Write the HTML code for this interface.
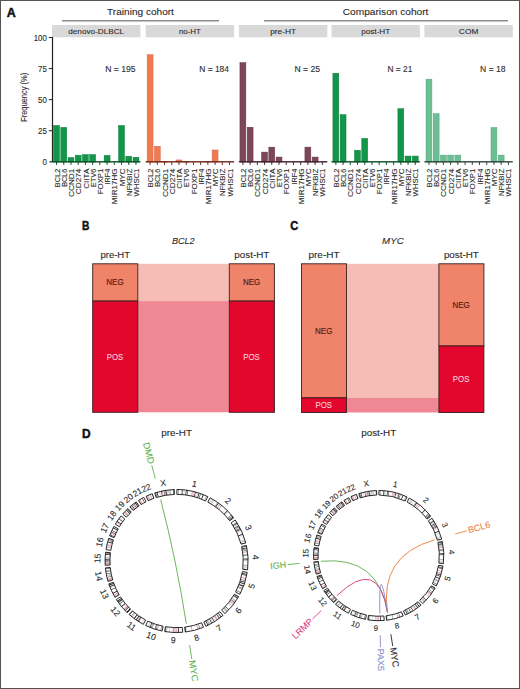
<!DOCTYPE html>
<html><head><meta charset="utf-8"><style>
html,body{margin:0;padding:0;background:#fff;}
svg{display:block;font-family:"Liberation Sans", sans-serif;}
</style></head><body>
<svg width="520" height="689" viewBox="0 0 520 689">
<rect x="0" y="0" width="520" height="689" fill="#fff"/>
<text x="6.80" y="16.80" font-size="12" text-anchor="start" fill="#111" stroke="#111" stroke-width="0.45" textLength="9.00" lengthAdjust="spacingAndGlyphs" font-weight="bold">A</text>
<text x="140.50" y="15.10" font-size="9.5" text-anchor="middle" fill="#2a2a2a" stroke="#2a2a2a" stroke-width="0.1" textLength="66.80" lengthAdjust="spacingAndGlyphs">Training cohort</text>
<rect x="62" y="20.2" width="157" height="1.2" fill="#707070"/>
<text x="385.60" y="15.10" font-size="9.5" text-anchor="middle" fill="#2a2a2a" stroke="#2a2a2a" stroke-width="0.1" textLength="85.60" lengthAdjust="spacingAndGlyphs">Comparison cohort</text>
<rect x="264" y="20.2" width="244" height="1.2" fill="#707070"/>
<rect x="52.00" y="25" width="88.4" height="12.3" fill="#d9d9d9"/>
<text x="96.20" y="34.00" font-size="8" text-anchor="middle" fill="#2a2a2a" stroke="#2a2a2a" stroke-width="0.1" textLength="55.80" lengthAdjust="spacingAndGlyphs">denovo-DLBCL</text>
<text x="120.40" y="71.50" font-size="8.5" text-anchor="middle" fill="#2a2a2a" stroke="#2a2a2a" stroke-width="0.1" textLength="30.40" lengthAdjust="spacingAndGlyphs">N = 195</text>
<rect x="53.60" y="125.51" width="5.9" height="36.54" fill="#12974a" stroke="#0c7d3b" stroke-width="0.5"/>
<rect x="56.05" y="161.8" width="1" height="3.1" fill="#0e4f29"/>
<text transform="translate(59.65,168.60) rotate(-90.00)" font-size="8.1" text-anchor="end" fill="#2a2a2a" stroke="#2a2a2a" stroke-width="0.1" textLength="18.60" lengthAdjust="spacingAndGlyphs">BCL2</text>
<rect x="60.82" y="127.37" width="5.9" height="34.68" fill="#12974a" stroke="#0c7d3b" stroke-width="0.5"/>
<rect x="63.27" y="161.8" width="1" height="3.1" fill="#0e4f29"/>
<text transform="translate(66.87,168.60) rotate(-90.00)" font-size="8.1" text-anchor="end" fill="#2a2a2a" stroke="#2a2a2a" stroke-width="0.1" textLength="18.20" lengthAdjust="spacingAndGlyphs">BCL6</text>
<rect x="68.04" y="157.58" width="5.9" height="4.47" fill="#12974a" stroke="#0c7d3b" stroke-width="0.5"/>
<rect x="70.49" y="161.8" width="1" height="3.1" fill="#0e4f29"/>
<text transform="translate(74.09,168.60) rotate(-90.00)" font-size="8.1" text-anchor="end" fill="#2a2a2a" stroke="#2a2a2a" stroke-width="0.1" textLength="28.40" lengthAdjust="spacingAndGlyphs">CCND1</text>
<rect x="75.26" y="155.21" width="5.9" height="6.84" fill="#12974a" stroke="#0c7d3b" stroke-width="0.5"/>
<rect x="77.71" y="161.8" width="1" height="3.1" fill="#0e4f29"/>
<text transform="translate(81.31,168.60) rotate(-90.00)" font-size="8.1" text-anchor="end" fill="#2a2a2a" stroke="#2a2a2a" stroke-width="0.1" textLength="25.60" lengthAdjust="spacingAndGlyphs">CD274</text>
<rect x="82.48" y="154.59" width="5.9" height="7.46" fill="#12974a" stroke="#0c7d3b" stroke-width="0.5"/>
<rect x="84.93" y="161.8" width="1" height="3.1" fill="#0e4f29"/>
<text transform="translate(88.53,168.60) rotate(-90.00)" font-size="8.1" text-anchor="end" fill="#2a2a2a" stroke="#2a2a2a" stroke-width="0.1" textLength="20.20" lengthAdjust="spacingAndGlyphs">CIITA</text>
<rect x="89.70" y="154.59" width="5.9" height="7.46" fill="#12974a" stroke="#0c7d3b" stroke-width="0.5"/>
<rect x="92.15" y="161.8" width="1" height="3.1" fill="#0e4f29"/>
<text transform="translate(95.75,168.60) rotate(-90.00)" font-size="8.1" text-anchor="end" fill="#2a2a2a" stroke="#2a2a2a" stroke-width="0.1" textLength="18.30" lengthAdjust="spacingAndGlyphs">ETV6</text>
<rect x="99.37" y="161.8" width="1" height="3.1" fill="#0e4f29"/>
<text transform="translate(102.97,168.60) rotate(-90.00)" font-size="8.1" text-anchor="end" fill="#2a2a2a" stroke="#2a2a2a" stroke-width="0.1" textLength="25.60" lengthAdjust="spacingAndGlyphs">FOXP1</text>
<rect x="104.14" y="155.46" width="5.9" height="6.59" fill="#12974a" stroke="#0c7d3b" stroke-width="0.5"/>
<rect x="106.59" y="161.8" width="1" height="3.1" fill="#0e4f29"/>
<text transform="translate(110.19,168.60) rotate(-90.00)" font-size="8.1" text-anchor="end" fill="#2a2a2a" stroke="#2a2a2a" stroke-width="0.1" textLength="15.90" lengthAdjust="spacingAndGlyphs">IRF4</text>
<rect x="113.81" y="161.8" width="1" height="3.1" fill="#0e4f29"/>
<text transform="translate(117.41,168.60) rotate(-90.00)" font-size="8.1" text-anchor="end" fill="#2a2a2a" stroke="#2a2a2a" stroke-width="0.1" textLength="35.60" lengthAdjust="spacingAndGlyphs">MIR17HG</text>
<rect x="118.58" y="125.51" width="5.9" height="36.54" fill="#12974a" stroke="#0c7d3b" stroke-width="0.5"/>
<rect x="121.03" y="161.8" width="1" height="3.1" fill="#0e4f29"/>
<text transform="translate(124.63,168.60) rotate(-90.00)" font-size="8.1" text-anchor="end" fill="#2a2a2a" stroke="#2a2a2a" stroke-width="0.1" textLength="17.70" lengthAdjust="spacingAndGlyphs">MYC</text>
<rect x="125.80" y="156.21" width="5.9" height="5.84" fill="#12974a" stroke="#0c7d3b" stroke-width="0.5"/>
<rect x="128.25" y="161.8" width="1" height="3.1" fill="#0e4f29"/>
<text transform="translate(131.85,168.60) rotate(-90.00)" font-size="8.1" text-anchor="end" fill="#2a2a2a" stroke="#2a2a2a" stroke-width="0.1" textLength="27.50" lengthAdjust="spacingAndGlyphs">NFKBIZ</text>
<rect x="133.02" y="157.33" width="5.9" height="4.72" fill="#12974a" stroke="#0c7d3b" stroke-width="0.5"/>
<rect x="135.47" y="161.8" width="1" height="3.1" fill="#0e4f29"/>
<text transform="translate(139.07,168.60) rotate(-90.00)" font-size="8.1" text-anchor="end" fill="#2a2a2a" stroke="#2a2a2a" stroke-width="0.1" textLength="27.90" lengthAdjust="spacingAndGlyphs">WHSC1</text>
<rect x="49.60" y="161.10" width="90.80" height="1.4" fill="#0e4f29"/>
<rect x="145.70" y="25" width="88.4" height="12.3" fill="#d9d9d9"/>
<text x="189.90" y="34.00" font-size="8" text-anchor="middle" fill="#2a2a2a" stroke="#2a2a2a" stroke-width="0.1" textLength="22.00" lengthAdjust="spacingAndGlyphs">no-HT</text>
<text x="214.10" y="71.50" font-size="8.5" text-anchor="middle" fill="#2a2a2a" stroke="#2a2a2a" stroke-width="0.1" textLength="29.70" lengthAdjust="spacingAndGlyphs">N = 184</text>
<rect x="147.15" y="54.65" width="5.9" height="107.40" fill="#f27a50" stroke="#d06a52" stroke-width="0.5"/>
<rect x="149.60" y="161.8" width="1" height="3.1" fill="#6e2a1a"/>
<text transform="translate(153.20,168.60) rotate(-90.00)" font-size="8.1" text-anchor="end" fill="#2a2a2a" stroke="#2a2a2a" stroke-width="0.1" textLength="18.60" lengthAdjust="spacingAndGlyphs">BCL2</text>
<rect x="154.37" y="146.26" width="5.9" height="15.79" fill="#f27a50" stroke="#d06a52" stroke-width="0.5"/>
<rect x="156.82" y="161.8" width="1" height="3.1" fill="#6e2a1a"/>
<text transform="translate(160.42,168.60) rotate(-90.00)" font-size="8.1" text-anchor="end" fill="#2a2a2a" stroke="#2a2a2a" stroke-width="0.1" textLength="18.20" lengthAdjust="spacingAndGlyphs">BCL6</text>
<rect x="161.59" y="161.30" width="5.9" height="0.75" fill="#f27a50" stroke="#d06a52" stroke-width="0.5"/>
<rect x="164.04" y="161.8" width="1" height="3.1" fill="#6e2a1a"/>
<text transform="translate(167.64,168.60) rotate(-90.00)" font-size="8.1" text-anchor="end" fill="#2a2a2a" stroke="#2a2a2a" stroke-width="0.1" textLength="28.40" lengthAdjust="spacingAndGlyphs">CCND1</text>
<rect x="171.26" y="161.8" width="1" height="3.1" fill="#6e2a1a"/>
<text transform="translate(174.86,168.60) rotate(-90.00)" font-size="8.1" text-anchor="end" fill="#2a2a2a" stroke="#2a2a2a" stroke-width="0.1" textLength="25.60" lengthAdjust="spacingAndGlyphs">CD274</text>
<rect x="176.03" y="159.94" width="5.9" height="2.11" fill="#f27a50" stroke="#d06a52" stroke-width="0.5"/>
<rect x="178.48" y="161.8" width="1" height="3.1" fill="#6e2a1a"/>
<text transform="translate(182.08,168.60) rotate(-90.00)" font-size="8.1" text-anchor="end" fill="#2a2a2a" stroke="#2a2a2a" stroke-width="0.1" textLength="20.20" lengthAdjust="spacingAndGlyphs">CIITA</text>
<rect x="183.25" y="161.30" width="5.9" height="0.75" fill="#f27a50" stroke="#d06a52" stroke-width="0.5"/>
<rect x="185.70" y="161.8" width="1" height="3.1" fill="#6e2a1a"/>
<text transform="translate(189.30,168.60) rotate(-90.00)" font-size="8.1" text-anchor="end" fill="#2a2a2a" stroke="#2a2a2a" stroke-width="0.1" textLength="18.30" lengthAdjust="spacingAndGlyphs">ETV6</text>
<rect x="192.92" y="161.8" width="1" height="3.1" fill="#6e2a1a"/>
<text transform="translate(196.52,168.60) rotate(-90.00)" font-size="8.1" text-anchor="end" fill="#2a2a2a" stroke="#2a2a2a" stroke-width="0.1" textLength="25.60" lengthAdjust="spacingAndGlyphs">FOXP1</text>
<rect x="200.14" y="161.8" width="1" height="3.1" fill="#6e2a1a"/>
<text transform="translate(203.74,168.60) rotate(-90.00)" font-size="8.1" text-anchor="end" fill="#2a2a2a" stroke="#2a2a2a" stroke-width="0.1" textLength="15.90" lengthAdjust="spacingAndGlyphs">IRF4</text>
<rect x="204.91" y="161.30" width="5.9" height="0.75" fill="#f27a50" stroke="#d06a52" stroke-width="0.5"/>
<rect x="207.36" y="161.8" width="1" height="3.1" fill="#6e2a1a"/>
<text transform="translate(210.96,168.60) rotate(-90.00)" font-size="8.1" text-anchor="end" fill="#2a2a2a" stroke="#2a2a2a" stroke-width="0.1" textLength="35.60" lengthAdjust="spacingAndGlyphs">MIR17HG</text>
<rect x="212.13" y="149.99" width="5.9" height="12.06" fill="#f27a50" stroke="#d06a52" stroke-width="0.5"/>
<rect x="214.58" y="161.8" width="1" height="3.1" fill="#6e2a1a"/>
<text transform="translate(218.18,168.60) rotate(-90.00)" font-size="8.1" text-anchor="end" fill="#2a2a2a" stroke="#2a2a2a" stroke-width="0.1" textLength="17.70" lengthAdjust="spacingAndGlyphs">MYC</text>
<rect x="221.80" y="161.8" width="1" height="3.1" fill="#6e2a1a"/>
<text transform="translate(225.40,168.60) rotate(-90.00)" font-size="8.1" text-anchor="end" fill="#2a2a2a" stroke="#2a2a2a" stroke-width="0.1" textLength="27.50" lengthAdjust="spacingAndGlyphs">NFKBIZ</text>
<rect x="229.02" y="161.8" width="1" height="3.1" fill="#6e2a1a"/>
<text transform="translate(232.62,168.60) rotate(-90.00)" font-size="8.1" text-anchor="end" fill="#2a2a2a" stroke="#2a2a2a" stroke-width="0.1" textLength="27.90" lengthAdjust="spacingAndGlyphs">WHSC1</text>
<rect x="145.70" y="161.10" width="88.40" height="1.4" fill="#6e2a1a"/>
<rect x="238.90" y="25" width="88.4" height="12.3" fill="#d9d9d9"/>
<text x="283.10" y="34.00" font-size="8" text-anchor="middle" fill="#2a2a2a" stroke="#2a2a2a" stroke-width="0.1" textLength="25.80" lengthAdjust="spacingAndGlyphs">pre-HT</text>
<text x="307.30" y="71.50" font-size="8.5" text-anchor="middle" fill="#2a2a2a" stroke="#2a2a2a" stroke-width="0.1" textLength="25.60" lengthAdjust="spacingAndGlyphs">N = 25</text>
<rect x="239.95" y="62.61" width="5.9" height="99.44" fill="#7d4759" stroke="#5f3444" stroke-width="0.5"/>
<rect x="242.40" y="161.8" width="1" height="3.1" fill="#42202e"/>
<text transform="translate(246.00,168.60) rotate(-90.00)" font-size="8.1" text-anchor="end" fill="#2a2a2a" stroke="#2a2a2a" stroke-width="0.1" textLength="18.60" lengthAdjust="spacingAndGlyphs">BCL2</text>
<rect x="247.17" y="127.25" width="5.9" height="34.80" fill="#7d4759" stroke="#5f3444" stroke-width="0.5"/>
<rect x="249.62" y="161.8" width="1" height="3.1" fill="#42202e"/>
<text transform="translate(253.22,168.60) rotate(-90.00)" font-size="8.1" text-anchor="end" fill="#2a2a2a" stroke="#2a2a2a" stroke-width="0.1" textLength="18.20" lengthAdjust="spacingAndGlyphs">BCL6</text>
<rect x="256.84" y="161.8" width="1" height="3.1" fill="#42202e"/>
<text transform="translate(260.44,168.60) rotate(-90.00)" font-size="8.1" text-anchor="end" fill="#2a2a2a" stroke="#2a2a2a" stroke-width="0.1" textLength="28.40" lengthAdjust="spacingAndGlyphs">CCND1</text>
<rect x="261.61" y="152.11" width="5.9" height="9.94" fill="#7d4759" stroke="#5f3444" stroke-width="0.5"/>
<rect x="264.06" y="161.8" width="1" height="3.1" fill="#42202e"/>
<text transform="translate(267.66,168.60) rotate(-90.00)" font-size="8.1" text-anchor="end" fill="#2a2a2a" stroke="#2a2a2a" stroke-width="0.1" textLength="25.60" lengthAdjust="spacingAndGlyphs">CD274</text>
<rect x="268.83" y="147.13" width="5.9" height="14.92" fill="#7d4759" stroke="#5f3444" stroke-width="0.5"/>
<rect x="271.28" y="161.8" width="1" height="3.1" fill="#42202e"/>
<text transform="translate(274.88,168.60) rotate(-90.00)" font-size="8.1" text-anchor="end" fill="#2a2a2a" stroke="#2a2a2a" stroke-width="0.1" textLength="20.20" lengthAdjust="spacingAndGlyphs">CIITA</text>
<rect x="276.05" y="157.08" width="5.9" height="4.97" fill="#7d4759" stroke="#5f3444" stroke-width="0.5"/>
<rect x="278.50" y="161.8" width="1" height="3.1" fill="#42202e"/>
<text transform="translate(282.10,168.60) rotate(-90.00)" font-size="8.1" text-anchor="end" fill="#2a2a2a" stroke="#2a2a2a" stroke-width="0.1" textLength="18.30" lengthAdjust="spacingAndGlyphs">ETV6</text>
<rect x="285.72" y="161.8" width="1" height="3.1" fill="#42202e"/>
<text transform="translate(289.32,168.60) rotate(-90.00)" font-size="8.1" text-anchor="end" fill="#2a2a2a" stroke="#2a2a2a" stroke-width="0.1" textLength="25.60" lengthAdjust="spacingAndGlyphs">FOXP1</text>
<rect x="292.94" y="161.8" width="1" height="3.1" fill="#42202e"/>
<text transform="translate(296.54,168.60) rotate(-90.00)" font-size="8.1" text-anchor="end" fill="#2a2a2a" stroke="#2a2a2a" stroke-width="0.1" textLength="15.90" lengthAdjust="spacingAndGlyphs">IRF4</text>
<rect x="300.16" y="161.8" width="1" height="3.1" fill="#42202e"/>
<text transform="translate(303.76,168.60) rotate(-90.00)" font-size="8.1" text-anchor="end" fill="#2a2a2a" stroke="#2a2a2a" stroke-width="0.1" textLength="35.60" lengthAdjust="spacingAndGlyphs">MIR17HG</text>
<rect x="304.93" y="147.13" width="5.9" height="14.92" fill="#7d4759" stroke="#5f3444" stroke-width="0.5"/>
<rect x="307.38" y="161.8" width="1" height="3.1" fill="#42202e"/>
<text transform="translate(310.98,168.60) rotate(-90.00)" font-size="8.1" text-anchor="end" fill="#2a2a2a" stroke="#2a2a2a" stroke-width="0.1" textLength="17.70" lengthAdjust="spacingAndGlyphs">MYC</text>
<rect x="312.15" y="157.08" width="5.9" height="4.97" fill="#7d4759" stroke="#5f3444" stroke-width="0.5"/>
<rect x="314.60" y="161.8" width="1" height="3.1" fill="#42202e"/>
<text transform="translate(318.20,168.60) rotate(-90.00)" font-size="8.1" text-anchor="end" fill="#2a2a2a" stroke="#2a2a2a" stroke-width="0.1" textLength="27.50" lengthAdjust="spacingAndGlyphs">NFKBIZ</text>
<rect x="321.82" y="161.8" width="1" height="3.1" fill="#42202e"/>
<text transform="translate(325.42,168.60) rotate(-90.00)" font-size="8.1" text-anchor="end" fill="#2a2a2a" stroke="#2a2a2a" stroke-width="0.1" textLength="27.90" lengthAdjust="spacingAndGlyphs">WHSC1</text>
<rect x="238.90" y="161.10" width="88.40" height="1.4" fill="#42202e"/>
<rect x="331.50" y="25" width="88.4" height="12.3" fill="#d9d9d9"/>
<text x="375.70" y="34.00" font-size="8" text-anchor="middle" fill="#2a2a2a" stroke="#2a2a2a" stroke-width="0.1" textLength="29.00" lengthAdjust="spacingAndGlyphs">post-HT</text>
<text x="399.90" y="71.50" font-size="8.5" text-anchor="middle" fill="#2a2a2a" stroke="#2a2a2a" stroke-width="0.1" textLength="24.80" lengthAdjust="spacingAndGlyphs">N = 21</text>
<rect x="332.90" y="73.30" width="5.9" height="88.75" fill="#12974a" stroke="#0c7d3b" stroke-width="0.5"/>
<rect x="335.35" y="161.8" width="1" height="3.1" fill="#0e4f29"/>
<text transform="translate(338.95,168.60) rotate(-90.00)" font-size="8.1" text-anchor="end" fill="#2a2a2a" stroke="#2a2a2a" stroke-width="0.1" textLength="18.60" lengthAdjust="spacingAndGlyphs">BCL2</text>
<rect x="340.12" y="114.69" width="5.9" height="47.36" fill="#12974a" stroke="#0c7d3b" stroke-width="0.5"/>
<rect x="342.57" y="161.8" width="1" height="3.1" fill="#0e4f29"/>
<text transform="translate(346.17,168.60) rotate(-90.00)" font-size="8.1" text-anchor="end" fill="#2a2a2a" stroke="#2a2a2a" stroke-width="0.1" textLength="18.20" lengthAdjust="spacingAndGlyphs">BCL6</text>
<rect x="349.79" y="161.8" width="1" height="3.1" fill="#0e4f29"/>
<text transform="translate(353.39,168.60) rotate(-90.00)" font-size="8.1" text-anchor="end" fill="#2a2a2a" stroke="#2a2a2a" stroke-width="0.1" textLength="28.40" lengthAdjust="spacingAndGlyphs">CCND1</text>
<rect x="354.56" y="150.24" width="5.9" height="11.81" fill="#12974a" stroke="#0c7d3b" stroke-width="0.5"/>
<rect x="357.01" y="161.8" width="1" height="3.1" fill="#0e4f29"/>
<text transform="translate(360.61,168.60) rotate(-90.00)" font-size="8.1" text-anchor="end" fill="#2a2a2a" stroke="#2a2a2a" stroke-width="0.1" textLength="25.60" lengthAdjust="spacingAndGlyphs">CD274</text>
<rect x="361.78" y="138.43" width="5.9" height="23.62" fill="#12974a" stroke="#0c7d3b" stroke-width="0.5"/>
<rect x="364.23" y="161.8" width="1" height="3.1" fill="#0e4f29"/>
<text transform="translate(367.83,168.60) rotate(-90.00)" font-size="8.1" text-anchor="end" fill="#2a2a2a" stroke="#2a2a2a" stroke-width="0.1" textLength="20.20" lengthAdjust="spacingAndGlyphs">CIITA</text>
<rect x="371.45" y="161.8" width="1" height="3.1" fill="#0e4f29"/>
<text transform="translate(375.05,168.60) rotate(-90.00)" font-size="8.1" text-anchor="end" fill="#2a2a2a" stroke="#2a2a2a" stroke-width="0.1" textLength="18.30" lengthAdjust="spacingAndGlyphs">ETV6</text>
<rect x="378.67" y="161.8" width="1" height="3.1" fill="#0e4f29"/>
<text transform="translate(382.27,168.60) rotate(-90.00)" font-size="8.1" text-anchor="end" fill="#2a2a2a" stroke="#2a2a2a" stroke-width="0.1" textLength="25.60" lengthAdjust="spacingAndGlyphs">FOXP1</text>
<rect x="385.89" y="161.8" width="1" height="3.1" fill="#0e4f29"/>
<text transform="translate(389.49,168.60) rotate(-90.00)" font-size="8.1" text-anchor="end" fill="#2a2a2a" stroke="#2a2a2a" stroke-width="0.1" textLength="15.90" lengthAdjust="spacingAndGlyphs">IRF4</text>
<rect x="393.11" y="161.8" width="1" height="3.1" fill="#0e4f29"/>
<text transform="translate(396.71,168.60) rotate(-90.00)" font-size="8.1" text-anchor="end" fill="#2a2a2a" stroke="#2a2a2a" stroke-width="0.1" textLength="35.60" lengthAdjust="spacingAndGlyphs">MIR17HG</text>
<rect x="397.88" y="108.73" width="5.9" height="53.32" fill="#12974a" stroke="#0c7d3b" stroke-width="0.5"/>
<rect x="400.33" y="161.8" width="1" height="3.1" fill="#0e4f29"/>
<text transform="translate(403.93,168.60) rotate(-90.00)" font-size="8.1" text-anchor="end" fill="#2a2a2a" stroke="#2a2a2a" stroke-width="0.1" textLength="17.70" lengthAdjust="spacingAndGlyphs">MYC</text>
<rect x="405.10" y="156.08" width="5.9" height="5.97" fill="#12974a" stroke="#0c7d3b" stroke-width="0.5"/>
<rect x="407.55" y="161.8" width="1" height="3.1" fill="#0e4f29"/>
<text transform="translate(411.15,168.60) rotate(-90.00)" font-size="8.1" text-anchor="end" fill="#2a2a2a" stroke="#2a2a2a" stroke-width="0.1" textLength="27.50" lengthAdjust="spacingAndGlyphs">NFKBIZ</text>
<rect x="412.32" y="156.08" width="5.9" height="5.97" fill="#12974a" stroke="#0c7d3b" stroke-width="0.5"/>
<rect x="414.77" y="161.8" width="1" height="3.1" fill="#0e4f29"/>
<text transform="translate(418.37,168.60) rotate(-90.00)" font-size="8.1" text-anchor="end" fill="#2a2a2a" stroke="#2a2a2a" stroke-width="0.1" textLength="27.90" lengthAdjust="spacingAndGlyphs">WHSC1</text>
<rect x="331.50" y="161.10" width="88.40" height="1.4" fill="#0e4f29"/>
<rect x="424.40" y="25" width="88.4" height="12.3" fill="#d9d9d9"/>
<text x="468.60" y="34.00" font-size="8" text-anchor="middle" fill="#2a2a2a" stroke="#2a2a2a" stroke-width="0.1" textLength="19.50" lengthAdjust="spacingAndGlyphs">COM</text>
<text x="492.80" y="71.50" font-size="8.5" text-anchor="middle" fill="#2a2a2a" stroke="#2a2a2a" stroke-width="0.1" textLength="25.40" lengthAdjust="spacingAndGlyphs">N = 18</text>
<rect x="426.00" y="79.14" width="5.9" height="82.91" fill="#6cbf95" stroke="#5aa680" stroke-width="0.5"/>
<rect x="428.45" y="161.8" width="1" height="3.1" fill="#34453d"/>
<text transform="translate(432.05,168.60) rotate(-90.00)" font-size="8.1" text-anchor="end" fill="#2a2a2a" stroke="#2a2a2a" stroke-width="0.1" textLength="18.60" lengthAdjust="spacingAndGlyphs">BCL2</text>
<rect x="433.22" y="113.70" width="5.9" height="48.35" fill="#6cbf95" stroke="#5aa680" stroke-width="0.5"/>
<rect x="435.67" y="161.8" width="1" height="3.1" fill="#34453d"/>
<text transform="translate(439.27,168.60) rotate(-90.00)" font-size="8.1" text-anchor="end" fill="#2a2a2a" stroke="#2a2a2a" stroke-width="0.1" textLength="18.20" lengthAdjust="spacingAndGlyphs">BCL6</text>
<rect x="440.44" y="155.09" width="5.9" height="6.96" fill="#6cbf95" stroke="#5aa680" stroke-width="0.5"/>
<rect x="442.89" y="161.8" width="1" height="3.1" fill="#34453d"/>
<text transform="translate(446.49,168.60) rotate(-90.00)" font-size="8.1" text-anchor="end" fill="#2a2a2a" stroke="#2a2a2a" stroke-width="0.1" textLength="28.40" lengthAdjust="spacingAndGlyphs">CCND1</text>
<rect x="447.66" y="155.09" width="5.9" height="6.96" fill="#6cbf95" stroke="#5aa680" stroke-width="0.5"/>
<rect x="450.11" y="161.8" width="1" height="3.1" fill="#34453d"/>
<text transform="translate(453.71,168.60) rotate(-90.00)" font-size="8.1" text-anchor="end" fill="#2a2a2a" stroke="#2a2a2a" stroke-width="0.1" textLength="25.60" lengthAdjust="spacingAndGlyphs">CD274</text>
<rect x="454.88" y="155.09" width="5.9" height="6.96" fill="#6cbf95" stroke="#5aa680" stroke-width="0.5"/>
<rect x="457.33" y="161.8" width="1" height="3.1" fill="#34453d"/>
<text transform="translate(460.93,168.60) rotate(-90.00)" font-size="8.1" text-anchor="end" fill="#2a2a2a" stroke="#2a2a2a" stroke-width="0.1" textLength="20.20" lengthAdjust="spacingAndGlyphs">CIITA</text>
<rect x="464.55" y="161.8" width="1" height="3.1" fill="#34453d"/>
<text transform="translate(468.15,168.60) rotate(-90.00)" font-size="8.1" text-anchor="end" fill="#2a2a2a" stroke="#2a2a2a" stroke-width="0.1" textLength="18.30" lengthAdjust="spacingAndGlyphs">ETV6</text>
<rect x="471.77" y="161.8" width="1" height="3.1" fill="#34453d"/>
<text transform="translate(475.37,168.60) rotate(-90.00)" font-size="8.1" text-anchor="end" fill="#2a2a2a" stroke="#2a2a2a" stroke-width="0.1" textLength="25.60" lengthAdjust="spacingAndGlyphs">FOXP1</text>
<rect x="478.99" y="161.8" width="1" height="3.1" fill="#34453d"/>
<text transform="translate(482.59,168.60) rotate(-90.00)" font-size="8.1" text-anchor="end" fill="#2a2a2a" stroke="#2a2a2a" stroke-width="0.1" textLength="15.90" lengthAdjust="spacingAndGlyphs">IRF4</text>
<rect x="486.21" y="161.8" width="1" height="3.1" fill="#34453d"/>
<text transform="translate(489.81,168.60) rotate(-90.00)" font-size="8.1" text-anchor="end" fill="#2a2a2a" stroke="#2a2a2a" stroke-width="0.1" textLength="35.60" lengthAdjust="spacingAndGlyphs">MIR17HG</text>
<rect x="490.98" y="127.49" width="5.9" height="34.56" fill="#6cbf95" stroke="#5aa680" stroke-width="0.5"/>
<rect x="493.43" y="161.8" width="1" height="3.1" fill="#34453d"/>
<text transform="translate(497.03,168.60) rotate(-90.00)" font-size="8.1" text-anchor="end" fill="#2a2a2a" stroke="#2a2a2a" stroke-width="0.1" textLength="17.70" lengthAdjust="spacingAndGlyphs">MYC</text>
<rect x="498.20" y="155.09" width="5.9" height="6.96" fill="#6cbf95" stroke="#5aa680" stroke-width="0.5"/>
<rect x="500.65" y="161.8" width="1" height="3.1" fill="#34453d"/>
<text transform="translate(504.25,168.60) rotate(-90.00)" font-size="8.1" text-anchor="end" fill="#2a2a2a" stroke="#2a2a2a" stroke-width="0.1" textLength="27.50" lengthAdjust="spacingAndGlyphs">NFKBIZ</text>
<rect x="507.87" y="161.8" width="1" height="3.1" fill="#34453d"/>
<text transform="translate(511.47,168.60) rotate(-90.00)" font-size="8.1" text-anchor="end" fill="#2a2a2a" stroke="#2a2a2a" stroke-width="0.1" textLength="27.90" lengthAdjust="spacingAndGlyphs">WHSC1</text>
<rect x="424.40" y="161.10" width="88.40" height="1.4" fill="#34453d"/>
<rect x="51.9" y="37.0" width="1.2" height="124.4" fill="#222"/>
<text x="46.90" y="164.85" font-size="8.6" text-anchor="end" fill="#2a2a2a" stroke="#2a2a2a" stroke-width="0.1" textLength="4.40" lengthAdjust="spacingAndGlyphs">0</text>
<rect x="48.8" y="130.23" width="3.2" height="1" fill="#222"/>
<text x="46.90" y="133.78" font-size="8.6" text-anchor="end" fill="#2a2a2a" stroke="#2a2a2a" stroke-width="0.1" textLength="8.80" lengthAdjust="spacingAndGlyphs">25</text>
<rect x="48.8" y="99.15" width="3.2" height="1" fill="#222"/>
<text x="46.90" y="102.70" font-size="8.6" text-anchor="end" fill="#2a2a2a" stroke="#2a2a2a" stroke-width="0.1" textLength="8.80" lengthAdjust="spacingAndGlyphs">50</text>
<rect x="48.8" y="68.08" width="3.2" height="1" fill="#222"/>
<text x="46.90" y="71.62" font-size="8.6" text-anchor="end" fill="#2a2a2a" stroke="#2a2a2a" stroke-width="0.1" textLength="8.80" lengthAdjust="spacingAndGlyphs">75</text>
<rect x="48.8" y="37.00" width="3.2" height="1" fill="#222"/>
<text x="46.90" y="40.55" font-size="8.6" text-anchor="end" fill="#2a2a2a" stroke="#2a2a2a" stroke-width="0.1" textLength="13.20" lengthAdjust="spacingAndGlyphs">100</text>
<text transform="translate(27.00,97.35) rotate(-90.00)" font-size="9.3" text-anchor="middle" fill="#2a2a2a" stroke="#2a2a2a" stroke-width="0.1" textLength="49.00" lengthAdjust="spacingAndGlyphs">Frequency (%)</text>
<text x="81.90" y="229.60" font-size="12" text-anchor="start" fill="#111" stroke="#111" stroke-width="0.45" textLength="7.40" lengthAdjust="spacingAndGlyphs" font-weight="bold">B</text>
<text x="290.20" y="230.00" font-size="12" text-anchor="start" fill="#111" stroke="#111" stroke-width="0.45" textLength="8.00" lengthAdjust="spacingAndGlyphs" font-weight="bold">C</text>
<rect x="137.80" y="263.8" width="91.50" height="37.30" fill="#f6bdb6"/>
<rect x="137.80" y="301.1" width="91.50" height="111.20" fill="#ef8893"/>
<rect x="92.7" y="263.8" width="45.1" height="37.30" fill="#f0846b" stroke="#3a1c1c" stroke-width="0.9"/>
<rect x="92.7" y="301.1" width="45.1" height="111.20" fill="#e3062d" stroke="#3a1c1c" stroke-width="0.9"/>
<text x="114.95" y="285.45" font-size="8.5" text-anchor="middle" fill="#5a1d12" stroke="#5a1d12" stroke-width="0.2" textLength="17.30" lengthAdjust="spacingAndGlyphs">NEG</text>
<text x="114.95" y="359.70" font-size="8.5" text-anchor="middle" fill="#f9d3d6" stroke="#f9d3d6" stroke-width="0.1" textLength="16.60" lengthAdjust="spacingAndGlyphs">POS</text>
<rect x="229.3" y="263.8" width="45.1" height="37.30" fill="#f0846b" stroke="#3a1c1c" stroke-width="0.9"/>
<rect x="229.3" y="301.1" width="45.1" height="111.20" fill="#e3062d" stroke="#3a1c1c" stroke-width="0.9"/>
<text x="251.55" y="285.45" font-size="8.5" text-anchor="middle" fill="#5a1d12" stroke="#5a1d12" stroke-width="0.2" textLength="17.30" lengthAdjust="spacingAndGlyphs">NEG</text>
<text x="251.55" y="359.70" font-size="8.5" text-anchor="middle" fill="#f9d3d6" stroke="#f9d3d6" stroke-width="0.1" textLength="16.60" lengthAdjust="spacingAndGlyphs">POS</text>
<text x="115.25" y="258.00" font-size="9.5" text-anchor="middle" fill="#2a2a2a" stroke="#2a2a2a" stroke-width="0.1" textLength="29.60" lengthAdjust="spacingAndGlyphs">pre-HT</text>
<text x="251.85" y="258.40" font-size="9.5" text-anchor="middle" fill="#2a2a2a" stroke="#2a2a2a" stroke-width="0.1" textLength="35.00" lengthAdjust="spacingAndGlyphs">post-HT</text>
<text x="183.30" y="243.90" font-size="9" text-anchor="middle" fill="#2a2a2a" stroke="#2a2a2a" stroke-width="0.1" textLength="22.80" lengthAdjust="spacingAndGlyphs" font-style="italic">BCL2</text>
<rect x="346.50" y="263.8" width="92.40" height="134.10" fill="#f6bdb6"/>
<rect x="346.50" y="397.9" width="92.40" height="14.60" fill="#ef8893"/>
<rect x="301.5" y="263.8" width="45.0" height="134.10" fill="#f0846b" stroke="#3a1c1c" stroke-width="0.9"/>
<rect x="301.5" y="397.9" width="45.0" height="14.60" fill="#e3062d" stroke="#3a1c1c" stroke-width="0.9"/>
<text x="323.70" y="333.85" font-size="8.5" text-anchor="middle" fill="#5a1d12" stroke="#5a1d12" stroke-width="0.2" textLength="17.30" lengthAdjust="spacingAndGlyphs">NEG</text>
<text x="323.70" y="408.20" font-size="8.5" text-anchor="middle" fill="#f9d3d6" stroke="#f9d3d6" stroke-width="0.1" textLength="16.60" lengthAdjust="spacingAndGlyphs">POS</text>
<rect x="438.9" y="263.8" width="45.0" height="82.20" fill="#f0846b" stroke="#3a1c1c" stroke-width="0.9"/>
<rect x="438.9" y="346.0" width="45.0" height="66.50" fill="#e3062d" stroke="#3a1c1c" stroke-width="0.9"/>
<text x="461.10" y="307.90" font-size="8.5" text-anchor="middle" fill="#5a1d12" stroke="#5a1d12" stroke-width="0.2" textLength="17.30" lengthAdjust="spacingAndGlyphs">NEG</text>
<text x="461.10" y="382.25" font-size="8.5" text-anchor="middle" fill="#f9d3d6" stroke="#f9d3d6" stroke-width="0.1" textLength="16.60" lengthAdjust="spacingAndGlyphs">POS</text>
<text x="324.00" y="258.00" font-size="9.5" text-anchor="middle" fill="#2a2a2a" stroke="#2a2a2a" stroke-width="0.1" textLength="31.00" lengthAdjust="spacingAndGlyphs">pre-HT</text>
<text x="461.40" y="258.40" font-size="9.5" text-anchor="middle" fill="#2a2a2a" stroke="#2a2a2a" stroke-width="0.1" textLength="35.00" lengthAdjust="spacingAndGlyphs">post-HT</text>
<text x="392.90" y="243.90" font-size="9" text-anchor="middle" fill="#2a2a2a" stroke="#2a2a2a" stroke-width="0.1" textLength="21.60" lengthAdjust="spacingAndGlyphs" font-style="italic">MYC</text>
<text x="81.90" y="437.60" font-size="12" text-anchor="start" fill="#111" stroke="#111" stroke-width="0.45" textLength="8.60" lengthAdjust="spacingAndGlyphs" font-weight="bold">D</text>
<text x="176.60" y="436.20" font-size="9.5" text-anchor="middle" fill="#2a2a2a" stroke="#2a2a2a" stroke-width="0.1" textLength="30.60" lengthAdjust="spacingAndGlyphs">pre-HT</text>
<path d="M177.05,489.45 A71.55,71.55 0 0 1 177.51,489.46 L177.45,494.36 A66.65,66.65 0 0 0 177.02,494.35 Z" fill="#d4d4d4"/>
<path d="M178.73,489.48 A71.55,71.55 0 0 1 179.06,489.49 L178.89,494.39 A66.65,66.65 0 0 0 178.58,494.38 Z" fill="#161616"/>
<path d="M181.92,489.65 A71.55,71.55 0 0 1 182.60,489.70 L182.19,494.58 A66.65,66.65 0 0 0 181.55,494.53 Z" fill="#161616"/>
<path d="M182.60,489.70 A71.55,71.55 0 0 1 183.22,489.76 L182.77,494.64 A66.65,66.65 0 0 0 182.19,494.58 Z" fill="#8c8c8c"/>
<path d="M183.93,489.83 A71.55,71.55 0 0 1 184.68,489.91 L184.13,494.78 A66.65,66.65 0 0 0 183.43,494.70 Z" fill="#d4d4d4"/>
<path d="M185.99,490.07 A71.55,71.55 0 0 1 186.72,490.17 L186.03,495.02 A66.65,66.65 0 0 0 185.35,494.93 Z" fill="#161616"/>
<path d="M187.44,490.28 A71.55,71.55 0 0 1 187.99,490.36 L187.21,495.20 A66.65,66.65 0 0 0 186.70,495.12 Z" fill="#161616"/>
<path d="M191.90,491.10 A71.55,71.55 0 0 1 192.41,491.22 L191.33,496.00 A66.65,66.65 0 0 0 190.85,495.89 Z" fill="#d4d4d4"/>
<path d="M193.75,491.53 A71.55,71.55 0 0 1 194.54,491.73 L193.31,496.48 A66.65,66.65 0 0 0 192.57,496.29 Z" fill="#161616"/>
<path d="M195.22,491.92 A71.55,71.55 0 0 1 196.01,492.13 L194.68,496.85 A66.65,66.65 0 0 0 193.95,496.65 Z" fill="#161616"/>
<path d="M196.01,492.13 A71.55,71.55 0 0 1 196.82,492.37 L195.44,497.07 A66.65,66.65 0 0 0 194.68,496.85 Z" fill="#d4d4d4"/>
<path d="M197.52,492.58 A71.55,71.55 0 0 1 198.29,492.82 L196.80,497.49 A66.65,66.65 0 0 0 196.09,497.26 Z" fill="#d4d4d4"/>
<path d="M198.75,492.97 A71.55,71.55 0 0 1 199.52,493.22 L197.95,497.86 A66.65,66.65 0 0 0 197.23,497.62 Z" fill="#161616"/>
<path d="M200.40,493.53 A71.55,71.55 0 0 1 200.87,493.69 L199.20,498.30 A66.65,66.65 0 0 0 198.77,498.15 Z" fill="#161616"/>
<path d="M202.96,494.48 A71.55,71.55 0 0 1 203.73,494.79 L201.87,499.33 A66.65,66.65 0 0 0 201.15,499.04 Z" fill="#161616"/>
<path d="M206.38,495.94 A71.55,71.55 0 0 1 206.69,496.09 L204.63,500.53 A66.65,66.65 0 0 0 204.34,500.40 Z" fill="#161616"/>
<path d="M192.27,491.19 A71.55,71.55 0 0 1 193.27,491.42 L192.13,496.18 A66.65,66.65 0 0 0 191.20,495.97 Z" fill="#f0b8c0"/>
<path d="M192.58,491.26 A71.55,71.55 0 0 1 192.96,491.35 L191.84,496.12 A66.65,66.65 0 0 0 191.49,496.03 Z" fill="#e48a96"/>
<path d="M192.77,491.30 A71.55,71.55 0 0 1 194.89,491.83 L193.64,496.56 A66.65,66.65 0 0 0 191.66,496.07 Z" fill="#f2c4ca"/>
<path d="M176.86,489.45 A71.55,71.55 0 0 1 207.78,496.60 L205.65,501.01 A66.65,66.65 0 0 0 176.84,494.35 Z" fill="none" stroke="#151515" stroke-width="0.9"/>
<text transform="translate(194.45,483.84) rotate(13.02)" font-size="8.6" text-anchor="middle" fill="#2a2a2a" stroke="#2a2a2a" stroke-width="0.1" dominant-baseline="central">1</text>
<path d="M210.27,497.87 A71.55,71.55 0 0 1 210.79,498.14 L208.44,502.45 A66.65,66.65 0 0 0 207.96,502.19 Z" fill="#d4d4d4"/>
<path d="M211.39,498.48 A71.55,71.55 0 0 1 211.95,498.79 L209.53,503.05 A66.65,66.65 0 0 0 209.01,502.76 Z" fill="#d4d4d4"/>
<path d="M212.70,499.23 A71.55,71.55 0 0 1 213.19,499.52 L210.69,503.73 A66.65,66.65 0 0 0 210.23,503.46 Z" fill="#8c8c8c"/>
<path d="M213.59,499.75 A71.55,71.55 0 0 1 214.34,500.21 L211.76,504.38 A66.65,66.65 0 0 0 211.05,503.95 Z" fill="#d4d4d4"/>
<path d="M214.88,500.55 A71.55,71.55 0 0 1 215.36,500.86 L212.70,504.97 A66.65,66.65 0 0 0 212.26,504.69 Z" fill="#d4d4d4"/>
<path d="M217.36,502.20 A71.55,71.55 0 0 1 217.96,502.62 L215.13,506.61 A66.65,66.65 0 0 0 214.57,506.22 Z" fill="#8c8c8c"/>
<path d="M218.23,502.81 A71.55,71.55 0 0 1 218.81,503.23 L215.92,507.18 A66.65,66.65 0 0 0 215.38,506.79 Z" fill="#161616"/>
<path d="M221.55,505.33 A71.55,71.55 0 0 1 222.05,505.74 L218.94,509.53 A66.65,66.65 0 0 0 218.47,509.14 Z" fill="#8c8c8c"/>
<path d="M225.48,508.75 A71.55,71.55 0 0 1 225.86,509.11 L222.49,512.66 A66.65,66.65 0 0 0 222.14,512.33 Z" fill="#d4d4d4"/>
<path d="M227.23,510.44 A71.55,71.55 0 0 1 227.78,511.00 L224.28,514.42 A66.65,66.65 0 0 0 223.76,513.90 Z" fill="#161616"/>
<path d="M228.08,511.31 A71.55,71.55 0 0 1 228.62,511.88 L225.06,515.24 A66.65,66.65 0 0 0 224.55,514.71 Z" fill="#d4d4d4"/>
<path d="M231.22,514.78 A71.55,71.55 0 0 1 231.43,515.03 L227.67,518.18 A66.65,66.65 0 0 0 227.48,517.95 Z" fill="#161616"/>
<path d="M231.96,515.67 A71.55,71.55 0 0 1 232.32,516.11 L228.50,519.19 A66.65,66.65 0 0 0 228.17,518.77 Z" fill="#161616"/>
<path d="M232.85,516.78 A71.55,71.55 0 0 1 233.31,517.38 L229.43,520.36 A66.65,66.65 0 0 0 229.00,519.81 Z" fill="#161616"/>
<path d="M219.76,503.93 A71.55,71.55 0 0 1 220.57,504.56 L217.56,508.42 A66.65,66.65 0 0 0 216.80,507.84 Z" fill="#f0b8c0"/>
<path d="M220.01,504.13 A71.55,71.55 0 0 1 220.32,504.36 L217.32,508.24 A66.65,66.65 0 0 0 217.04,508.02 Z" fill="#e48a96"/>
<path d="M210.10,497.78 A71.55,71.55 0 0 1 233.68,517.86 L229.77,520.82 A66.65,66.65 0 0 0 207.80,502.11 Z" fill="none" stroke="#151515" stroke-width="0.9"/>
<text transform="translate(227.95,500.70) rotate(40.42)" font-size="8.6" text-anchor="middle" fill="#2a2a2a" stroke="#2a2a2a" stroke-width="0.1" dominant-baseline="central">2</text>
<path d="M236.65,522.10 A71.55,71.55 0 0 1 237.11,522.81 L232.96,525.43 A66.65,66.65 0 0 0 232.54,524.77 Z" fill="#8c8c8c"/>
<path d="M237.11,522.81 A71.55,71.55 0 0 1 237.56,523.54 L233.39,526.11 A66.65,66.65 0 0 0 232.96,525.43 Z" fill="#161616"/>
<path d="M237.56,523.54 A71.55,71.55 0 0 1 238.00,524.26 L233.79,526.77 A66.65,66.65 0 0 0 233.39,526.11 Z" fill="#d4d4d4"/>
<path d="M238.00,524.26 A71.55,71.55 0 0 1 238.16,524.54 L233.95,527.04 A66.65,66.65 0 0 0 233.79,526.77 Z" fill="#8c8c8c"/>
<path d="M238.38,524.90 A71.55,71.55 0 0 1 238.73,525.51 L234.47,527.94 A66.65,66.65 0 0 0 234.15,527.38 Z" fill="#d4d4d4"/>
<path d="M238.73,525.51 A71.55,71.55 0 0 1 239.01,526.00 L234.73,528.40 A66.65,66.65 0 0 0 234.47,527.94 Z" fill="#161616"/>
<path d="M239.33,526.59 A71.55,71.55 0 0 1 239.56,527.00 L235.24,529.33 A66.65,66.65 0 0 0 235.04,528.95 Z" fill="#161616"/>
<path d="M240.08,527.99 A71.55,71.55 0 0 1 240.37,528.55 L236.00,530.77 A66.65,66.65 0 0 0 235.73,530.25 Z" fill="#161616"/>
<path d="M240.56,528.93 A71.55,71.55 0 0 1 240.94,529.69 L236.53,531.84 A66.65,66.65 0 0 0 236.18,531.12 Z" fill="#161616"/>
<path d="M241.72,531.35 A71.55,71.55 0 0 1 241.91,531.78 L237.44,533.78 A66.65,66.65 0 0 0 237.26,533.38 Z" fill="#d4d4d4"/>
<path d="M242.73,533.69 A71.55,71.55 0 0 1 243.07,534.51 L238.51,536.33 A66.65,66.65 0 0 0 238.20,535.56 Z" fill="#161616"/>
<path d="M243.39,535.33 A71.55,71.55 0 0 1 243.57,535.82 L238.98,537.54 A66.65,66.65 0 0 0 238.81,537.08 Z" fill="#d4d4d4"/>
<path d="M243.95,536.84 A71.55,71.55 0 0 1 244.08,537.21 L239.46,538.84 A66.65,66.65 0 0 0 239.34,538.49 Z" fill="#d4d4d4"/>
<path d="M244.44,538.25 A71.55,71.55 0 0 1 244.61,538.76 L239.95,540.28 A66.65,66.65 0 0 0 239.79,539.81 Z" fill="#d4d4d4"/>
<path d="M244.84,539.50 A71.55,71.55 0 0 1 245.07,540.25 L240.38,541.67 A66.65,66.65 0 0 0 240.17,540.97 Z" fill="#d4d4d4"/>
<path d="M245.24,540.79 A71.55,71.55 0 0 1 245.41,541.38 L240.69,542.72 A66.65,66.65 0 0 0 240.54,542.18 Z" fill="#8c8c8c"/>
<path d="M245.71,542.49 A71.55,71.55 0 0 1 245.83,542.91 L241.09,544.15 A66.65,66.65 0 0 0 240.98,543.75 Z" fill="#8c8c8c"/>
<path d="M240.88,529.57 A71.55,71.55 0 0 1 241.32,530.50 L236.89,532.59 A66.65,66.65 0 0 0 236.48,531.73 Z" fill="#f0b8c0"/>
<path d="M241.02,529.86 A71.55,71.55 0 0 1 241.19,530.21 L236.76,532.32 A66.65,66.65 0 0 0 236.61,531.99 Z" fill="#e48a96"/>
<path d="M235.21,519.96 A71.55,71.55 0 0 1 245.83,542.91 L241.09,544.15 A66.65,66.65 0 0 0 231.20,522.77 Z" fill="none" stroke="#151515" stroke-width="0.9"/>
<text transform="translate(248.48,527.75) rotate(65.18)" font-size="8.6" text-anchor="middle" fill="#2a2a2a" stroke="#2a2a2a" stroke-width="0.1" dominant-baseline="central">3</text>
<path d="M246.56,545.98 A71.55,71.55 0 0 1 246.67,546.54 L241.87,547.53 A66.65,66.65 0 0 0 241.77,547.01 Z" fill="#161616"/>
<path d="M246.84,547.38 A71.55,71.55 0 0 1 247.00,548.21 L242.18,549.08 A66.65,66.65 0 0 0 242.03,548.31 Z" fill="#161616"/>
<path d="M247.08,548.67 A71.55,71.55 0 0 1 247.15,549.06 L242.32,549.88 A66.65,66.65 0 0 0 242.25,549.52 Z" fill="#161616"/>
<path d="M247.26,549.75 A71.55,71.55 0 0 1 247.38,550.52 L242.53,551.24 A66.65,66.65 0 0 0 242.42,550.52 Z" fill="#8c8c8c"/>
<path d="M247.38,550.52 A71.55,71.55 0 0 1 247.48,551.26 L242.63,551.93 A66.65,66.65 0 0 0 242.53,551.24 Z" fill="#d4d4d4"/>
<path d="M247.80,553.92 A71.55,71.55 0 0 1 247.83,554.25 L242.95,554.71 A66.65,66.65 0 0 0 242.92,554.40 Z" fill="#161616"/>
<path d="M247.87,554.64 A71.55,71.55 0 0 1 247.93,555.35 L243.04,555.73 A66.65,66.65 0 0 0 242.99,555.07 Z" fill="#161616"/>
<path d="M247.93,555.35 A71.55,71.55 0 0 1 247.99,556.22 L243.10,556.54 A66.65,66.65 0 0 0 243.04,555.73 Z" fill="#d4d4d4"/>
<path d="M248.11,558.49 A71.55,71.55 0 0 1 248.13,559.25 L243.23,559.37 A66.65,66.65 0 0 0 243.21,558.67 Z" fill="#161616"/>
<path d="M248.14,559.60 A71.55,71.55 0 0 1 248.15,560.25 L243.25,560.30 A66.65,66.65 0 0 0 243.24,559.70 Z" fill="#161616"/>
<path d="M248.15,560.71 A71.55,71.55 0 0 1 248.15,561.18 L243.25,561.16 A66.65,66.65 0 0 0 243.25,560.73 Z" fill="#d4d4d4"/>
<path d="M248.04,564.99 A71.55,71.55 0 0 1 247.99,565.71 L243.11,565.39 A66.65,66.65 0 0 0 243.15,564.72 Z" fill="#8c8c8c"/>
<path d="M247.94,566.42 A71.55,71.55 0 0 1 247.90,567.02 L243.01,566.61 A66.65,66.65 0 0 0 243.06,566.05 Z" fill="#d4d4d4"/>
<path d="M247.82,567.85 A71.55,71.55 0 0 1 247.78,568.23 L242.91,567.73 A66.65,66.65 0 0 0 242.94,567.38 Z" fill="#8c8c8c"/>
<path d="M247.69,569.07 A71.55,71.55 0 0 1 247.63,569.65 L242.76,569.06 A66.65,66.65 0 0 0 242.82,568.52 Z" fill="#8c8c8c"/>
<path d="M247.49,551.30 A71.55,71.55 0 0 1 247.62,552.32 L242.76,552.91 A66.65,66.65 0 0 0 242.63,551.96 Z" fill="#f0b8c0"/>
<path d="M247.53,551.62 A71.55,71.55 0 0 1 247.58,552.00 L242.72,552.62 A66.65,66.65 0 0 0 242.67,552.26 Z" fill="#e48a96"/>
<path d="M246.44,545.44 A71.55,71.55 0 0 1 247.60,569.83 L242.74,569.23 A66.65,66.65 0 0 0 241.65,546.50 Z" fill="none" stroke="#151515" stroke-width="0.9"/>
<text transform="translate(255.71,557.22) rotate(87.26)" font-size="8.6" text-anchor="middle" fill="#2a2a2a" stroke="#2a2a2a" stroke-width="0.1" dominant-baseline="central">4</text>
<path d="M247.13,573.02 A71.55,71.55 0 0 1 247.06,573.45 L242.23,572.59 A66.65,66.65 0 0 0 242.30,572.19 Z" fill="#d4d4d4"/>
<path d="M246.97,573.94 A71.55,71.55 0 0 1 246.84,574.65 L242.03,573.71 A66.65,66.65 0 0 0 242.15,573.05 Z" fill="#161616"/>
<path d="M246.84,574.65 A71.55,71.55 0 0 1 246.74,575.13 L241.94,574.16 A66.65,66.65 0 0 0 242.03,573.71 Z" fill="#8c8c8c"/>
<path d="M246.74,575.13 A71.55,71.55 0 0 1 246.63,575.68 L241.83,574.67 A66.65,66.65 0 0 0 241.94,574.16 Z" fill="#161616"/>
<path d="M245.64,579.79 A71.55,71.55 0 0 1 245.43,580.55 L240.71,579.21 A66.65,66.65 0 0 0 240.91,578.50 Z" fill="#d4d4d4"/>
<path d="M245.43,580.55 A71.55,71.55 0 0 1 245.26,581.13 L240.56,579.75 A66.65,66.65 0 0 0 240.71,579.21 Z" fill="#8c8c8c"/>
<path d="M245.03,581.91 A71.55,71.55 0 0 1 244.80,582.62 L240.13,581.14 A66.65,66.65 0 0 0 240.34,580.48 Z" fill="#161616"/>
<path d="M244.62,583.18 A71.55,71.55 0 0 1 244.48,583.62 L239.83,582.07 A66.65,66.65 0 0 0 239.97,581.66 Z" fill="#8c8c8c"/>
<path d="M244.48,583.62 A71.55,71.55 0 0 1 244.25,584.29 L239.62,582.70 A66.65,66.65 0 0 0 239.83,582.07 Z" fill="#161616"/>
<path d="M243.84,585.46 A71.55,71.55 0 0 1 243.69,585.87 L239.09,584.16 A66.65,66.65 0 0 0 239.23,583.79 Z" fill="#8c8c8c"/>
<path d="M243.69,585.87 A71.55,71.55 0 0 1 243.40,586.63 L238.83,584.88 A66.65,66.65 0 0 0 239.09,584.16 Z" fill="#161616"/>
<path d="M242.77,588.22 A71.55,71.55 0 0 1 242.63,588.57 L238.10,586.68 A66.65,66.65 0 0 0 238.24,586.36 Z" fill="#161616"/>
<path d="M242.44,589.02 A71.55,71.55 0 0 1 242.18,589.62 L237.68,587.66 A66.65,66.65 0 0 0 237.93,587.10 Z" fill="#8c8c8c"/>
<path d="M241.81,590.44 A71.55,71.55 0 0 1 241.63,590.85 L237.17,588.80 A66.65,66.65 0 0 0 237.34,588.43 Z" fill="#d4d4d4"/>
<path d="M240.98,592.21 A71.55,71.55 0 0 1 240.77,592.64 L236.38,590.47 A66.65,66.65 0 0 0 236.57,590.07 Z" fill="#8c8c8c"/>
<path d="M240.77,592.64 A71.55,71.55 0 0 1 240.60,592.99 L236.22,590.80 A66.65,66.65 0 0 0 236.38,590.47 Z" fill="#161616"/>
<path d="M246.10,577.99 A71.55,71.55 0 0 1 245.85,578.99 L241.11,577.75 A66.65,66.65 0 0 0 241.34,576.83 Z" fill="#f0b8c0"/>
<path d="M246.03,578.30 A71.55,71.55 0 0 1 245.93,578.67 L241.18,577.46 A66.65,66.65 0 0 0 241.27,577.12 Z" fill="#e48a96"/>
<path d="M247.24,572.40 A71.55,71.55 0 0 1 239.91,594.34 L235.57,592.05 A66.65,66.65 0 0 0 242.40,571.62 Z" fill="none" stroke="#151515" stroke-width="0.9"/>
<text transform="translate(251.72,586.09) rotate(-71.53)" font-size="8.6" text-anchor="middle" fill="#2a2a2a" stroke="#2a2a2a" stroke-width="0.1" dominant-baseline="central">5</text>
<path d="M238.56,596.78 A71.55,71.55 0 0 1 238.17,597.44 L233.96,594.95 A66.65,66.65 0 0 0 234.32,594.33 Z" fill="#8c8c8c"/>
<path d="M237.92,597.86 A71.55,71.55 0 0 1 237.56,598.46 L233.38,595.90 A66.65,66.65 0 0 0 233.72,595.34 Z" fill="#161616"/>
<path d="M237.56,598.46 A71.55,71.55 0 0 1 237.31,598.87 L233.15,596.27 A66.65,66.65 0 0 0 233.38,595.90 Z" fill="#8c8c8c"/>
<path d="M236.16,600.64 A71.55,71.55 0 0 1 235.75,601.25 L231.70,598.50 A66.65,66.65 0 0 0 232.09,597.93 Z" fill="#8c8c8c"/>
<path d="M235.39,601.79 A71.55,71.55 0 0 1 234.99,602.35 L230.99,599.52 A66.65,66.65 0 0 0 231.36,598.99 Z" fill="#d4d4d4"/>
<path d="M234.99,602.35 A71.55,71.55 0 0 1 234.74,602.70 L230.76,599.84 A66.65,66.65 0 0 0 230.99,599.52 Z" fill="#161616"/>
<path d="M233.82,603.96 A71.55,71.55 0 0 1 233.51,604.37 L229.61,601.40 A66.65,66.65 0 0 0 229.90,601.02 Z" fill="#8c8c8c"/>
<path d="M233.51,604.37 A71.55,71.55 0 0 1 233.10,604.89 L229.23,601.89 A66.65,66.65 0 0 0 229.61,601.40 Z" fill="#d4d4d4"/>
<path d="M232.36,605.83 A71.55,71.55 0 0 1 232.14,606.11 L228.33,603.02 A66.65,66.65 0 0 0 228.54,602.76 Z" fill="#8c8c8c"/>
<path d="M232.14,606.11 A71.55,71.55 0 0 1 231.66,606.70 L227.88,603.57 A66.65,66.65 0 0 0 228.33,603.02 Z" fill="#d4d4d4"/>
<path d="M229.06,609.66 A71.55,71.55 0 0 1 228.62,610.12 L225.06,606.76 A66.65,66.65 0 0 0 225.46,606.33 Z" fill="#161616"/>
<path d="M227.73,611.05 A71.55,71.55 0 0 1 227.19,611.60 L223.72,608.13 A66.65,66.65 0 0 0 224.23,607.62 Z" fill="#8c8c8c"/>
<path d="M226.88,611.90 A71.55,71.55 0 0 1 226.48,612.29 L223.07,608.78 A66.65,66.65 0 0 0 223.44,608.41 Z" fill="#8c8c8c"/>
<path d="M234.70,602.76 A71.55,71.55 0 0 1 234.09,603.59 L230.15,600.68 A66.65,66.65 0 0 0 230.72,599.90 Z" fill="#f0b8c0"/>
<path d="M234.51,603.02 A71.55,71.55 0 0 1 234.28,603.33 L230.33,600.44 A66.65,66.65 0 0 0 230.54,600.15 Z" fill="#e48a96"/>
<path d="M238.66,596.61 A71.55,71.55 0 0 1 224.99,613.70 L221.68,610.09 A66.65,66.65 0 0 0 234.41,594.17 Z" fill="none" stroke="#151515" stroke-width="0.9"/>
<text transform="translate(238.46,610.46) rotate(-51.35)" font-size="8.6" text-anchor="middle" fill="#2a2a2a" stroke="#2a2a2a" stroke-width="0.1" dominant-baseline="central">6</text>
<path d="M222.90,615.55 A71.55,71.55 0 0 1 222.42,615.95 L219.28,612.19 A66.65,66.65 0 0 0 219.73,611.81 Z" fill="#d4d4d4"/>
<path d="M221.49,616.72 A71.55,71.55 0 0 1 220.87,617.21 L217.84,613.36 A66.65,66.65 0 0 0 218.41,612.90 Z" fill="#161616"/>
<path d="M220.19,617.74 A71.55,71.55 0 0 1 219.68,618.13 L216.73,614.22 A66.65,66.65 0 0 0 217.20,613.86 Z" fill="#d4d4d4"/>
<path d="M219.68,618.13 A71.55,71.55 0 0 1 219.13,618.54 L216.21,614.60 A66.65,66.65 0 0 0 216.73,614.22 Z" fill="#161616"/>
<path d="M217.88,619.44 A71.55,71.55 0 0 1 217.33,619.82 L214.54,615.80 A66.65,66.65 0 0 0 215.05,615.44 Z" fill="#8c8c8c"/>
<path d="M215.97,620.75 A71.55,71.55 0 0 1 215.60,620.98 L212.93,616.88 A66.65,66.65 0 0 0 213.27,616.66 Z" fill="#d4d4d4"/>
<path d="M214.73,621.54 A71.55,71.55 0 0 1 214.18,621.89 L211.61,617.72 A66.65,66.65 0 0 0 212.12,617.40 Z" fill="#161616"/>
<path d="M213.47,622.32 A71.55,71.55 0 0 1 212.80,622.72 L210.32,618.49 A66.65,66.65 0 0 0 210.94,618.12 Z" fill="#d4d4d4"/>
<path d="M212.10,623.12 A71.55,71.55 0 0 1 211.55,623.43 L209.16,619.16 A66.65,66.65 0 0 0 209.67,618.87 Z" fill="#161616"/>
<path d="M210.47,624.03 A71.55,71.55 0 0 1 209.75,624.41 L207.48,620.07 A66.65,66.65 0 0 0 208.15,619.71 Z" fill="#d4d4d4"/>
<path d="M209.75,624.41 A71.55,71.55 0 0 1 208.99,624.80 L206.77,620.43 A66.65,66.65 0 0 0 207.48,620.07 Z" fill="#8c8c8c"/>
<path d="M208.32,625.14 A71.55,71.55 0 0 1 207.61,625.48 L205.49,621.06 A66.65,66.65 0 0 0 206.15,620.74 Z" fill="#161616"/>
<path d="M217.36,619.80 A71.55,71.55 0 0 1 216.52,620.38 L213.78,616.31 A66.65,66.65 0 0 0 214.57,615.78 Z" fill="#f0b8c0"/>
<path d="M217.10,619.98 A71.55,71.55 0 0 1 216.78,620.20 L214.03,616.15 A66.65,66.65 0 0 0 214.33,615.95 Z" fill="#e48a96"/>
<path d="M223.05,615.42 A71.55,71.55 0 0 1 205.84,626.30 L203.84,621.83 A66.65,66.65 0 0 0 219.87,611.70 Z" fill="none" stroke="#151515" stroke-width="0.9"/>
<text transform="translate(218.92,627.95) rotate(-32.30)" font-size="8.6" text-anchor="middle" fill="#2a2a2a" stroke="#2a2a2a" stroke-width="0.1" dominant-baseline="central">7</text>
<path d="M202.55,627.68 A71.55,71.55 0 0 1 201.87,627.94 L200.14,623.36 A66.65,66.65 0 0 0 200.77,623.11 Z" fill="#d4d4d4"/>
<path d="M200.16,628.56 A71.55,71.55 0 0 1 199.76,628.70 L198.17,624.06 A66.65,66.65 0 0 0 198.54,623.93 Z" fill="#161616"/>
<path d="M199.06,628.93 A71.55,71.55 0 0 1 198.55,629.10 L197.05,624.44 A66.65,66.65 0 0 0 197.52,624.28 Z" fill="#d4d4d4"/>
<path d="M192.46,630.77 A71.55,71.55 0 0 1 192.13,630.84 L191.07,626.06 A66.65,66.65 0 0 0 191.37,625.99 Z" fill="#161616"/>
<path d="M187.26,631.75 A71.55,71.55 0 0 1 186.47,631.87 L185.80,627.01 A66.65,66.65 0 0 0 186.53,626.91 Z" fill="#d4d4d4"/>
<path d="M185.96,631.94 A71.55,71.55 0 0 1 185.31,632.02 L184.71,627.15 A66.65,66.65 0 0 0 185.32,627.08 Z" fill="#161616"/>
<path d="M198.43,629.14 A71.55,71.55 0 0 1 197.45,629.45 L196.02,624.76 A66.65,66.65 0 0 0 196.93,624.47 Z" fill="#f0b8c0"/>
<path d="M198.12,629.24 A71.55,71.55 0 0 1 197.76,629.35 L196.31,624.67 A66.65,66.65 0 0 0 196.65,624.56 Z" fill="#e48a96"/>
<path d="M203.45,627.32 A71.55,71.55 0 0 1 185.31,632.02 L184.71,627.15 A66.65,66.65 0 0 0 201.61,622.78 Z" fill="none" stroke="#151515" stroke-width="0.9"/>
<text transform="translate(196.45,637.67) rotate(-14.51)" font-size="8.6" text-anchor="middle" fill="#2a2a2a" stroke="#2a2a2a" stroke-width="0.1" dominant-baseline="central">8</text>
<path d="M181.11,632.41 A71.55,71.55 0 0 1 180.76,632.43 L180.48,627.54 A66.65,66.65 0 0 0 180.80,627.52 Z" fill="#d4d4d4"/>
<path d="M179.04,632.51 A71.55,71.55 0 0 1 178.25,632.53 L178.14,627.63 A66.65,66.65 0 0 0 178.87,627.61 Z" fill="#161616"/>
<path d="M177.39,632.55 A71.55,71.55 0 0 1 176.89,632.55 L176.87,627.65 A66.65,66.65 0 0 0 177.34,627.65 Z" fill="#d4d4d4"/>
<path d="M175.15,632.54 A71.55,71.55 0 0 1 174.63,632.52 L174.77,627.62 A66.65,66.65 0 0 0 175.25,627.64 Z" fill="#8c8c8c"/>
<path d="M173.78,632.49 A71.55,71.55 0 0 1 173.03,632.46 L173.27,627.57 A66.65,66.65 0 0 0 173.97,627.60 Z" fill="#8c8c8c"/>
<path d="M173.03,632.46 A71.55,71.55 0 0 1 172.23,632.42 L172.53,627.53 A66.65,66.65 0 0 0 173.27,627.57 Z" fill="#d4d4d4"/>
<path d="M169.57,632.20 A71.55,71.55 0 0 1 168.84,632.13 L169.37,627.26 A66.65,66.65 0 0 0 170.05,627.33 Z" fill="#d4d4d4"/>
<path d="M166.79,631.87 A71.55,71.55 0 0 1 166.20,631.79 L166.92,626.94 A66.65,66.65 0 0 0 167.46,627.02 Z" fill="#8c8c8c"/>
<path d="M165.50,631.68 A71.55,71.55 0 0 1 165.05,631.61 L165.84,626.78 A66.65,66.65 0 0 0 166.26,626.84 Z" fill="#161616"/>
<path d="M176.95,632.55 A71.55,71.55 0 0 1 175.92,632.55 L175.97,627.65 A66.65,66.65 0 0 0 176.93,627.65 Z" fill="#f0b8c0"/>
<path d="M176.63,632.55 A71.55,71.55 0 0 1 176.25,632.55 L176.27,627.65 A66.65,66.65 0 0 0 176.63,627.65 Z" fill="#e48a96"/>
<path d="M176.44,632.55 A71.55,71.55 0 0 1 174.26,632.51 L174.42,627.61 A66.65,66.65 0 0 0 176.45,627.65 Z" fill="#f2c4ca"/>
<path d="M182.72,632.29 A71.55,71.55 0 0 1 164.66,631.55 L165.47,626.71 A66.65,66.65 0 0 0 182.30,627.41 Z" fill="none" stroke="#151515" stroke-width="0.9"/>
<text transform="translate(173.35,640.13) rotate(2.35)" font-size="8.6" text-anchor="middle" fill="#2a2a2a" stroke="#2a2a2a" stroke-width="0.1" dominant-baseline="central">9</text>
<path d="M161.11,630.85 A71.55,71.55 0 0 1 160.29,630.67 L161.41,625.90 A66.65,66.65 0 0 0 162.17,626.07 Z" fill="#8c8c8c"/>
<path d="M157.96,630.08 A71.55,71.55 0 0 1 157.61,629.98 L158.91,625.26 A66.65,66.65 0 0 0 159.24,625.35 Z" fill="#d4d4d4"/>
<path d="M156.14,629.56 A71.55,71.55 0 0 1 155.71,629.43 L157.14,624.74 A66.65,66.65 0 0 0 157.54,624.87 Z" fill="#161616"/>
<path d="M155.71,629.43 A71.55,71.55 0 0 1 155.28,629.30 L156.74,624.62 A66.65,66.65 0 0 0 157.14,624.74 Z" fill="#d4d4d4"/>
<path d="M155.28,629.30 A71.55,71.55 0 0 1 154.74,629.13 L156.24,624.46 A66.65,66.65 0 0 0 156.74,624.62 Z" fill="#161616"/>
<path d="M152.35,628.32 A71.55,71.55 0 0 1 152.04,628.20 L153.72,623.60 A66.65,66.65 0 0 0 154.01,623.71 Z" fill="#161616"/>
<path d="M151.28,627.92 A71.55,71.55 0 0 1 150.86,627.76 L152.62,623.19 A66.65,66.65 0 0 0 153.02,623.34 Z" fill="#161616"/>
<path d="M150.86,627.76 A71.55,71.55 0 0 1 150.23,627.51 L152.04,622.96 A66.65,66.65 0 0 0 152.62,623.19 Z" fill="#d4d4d4"/>
<path d="M150.23,627.51 A71.55,71.55 0 0 1 149.53,627.23 L151.38,622.69 A66.65,66.65 0 0 0 152.04,622.96 Z" fill="#161616"/>
<path d="M149.53,627.23 A71.55,71.55 0 0 1 149.04,627.03 L150.93,622.51 A66.65,66.65 0 0 0 151.38,622.69 Z" fill="#d4d4d4"/>
<path d="M148.51,626.81 A71.55,71.55 0 0 1 147.77,626.49 L149.75,622.00 A66.65,66.65 0 0 0 150.44,622.30 Z" fill="#d4d4d4"/>
<path d="M157.59,629.98 A71.55,71.55 0 0 1 156.60,629.70 L157.97,624.99 A66.65,66.65 0 0 0 158.89,625.25 Z" fill="#f0b8c0"/>
<path d="M157.28,629.89 A71.55,71.55 0 0 1 156.91,629.79 L158.26,625.08 A66.65,66.65 0 0 0 158.60,625.17 Z" fill="#e48a96"/>
<path d="M162.10,631.07 A71.55,71.55 0 0 1 145.66,625.52 L147.78,621.10 A66.65,66.65 0 0 0 163.10,626.27 Z" fill="none" stroke="#151515" stroke-width="0.9"/>
<text transform="translate(151.27,636.04) rotate(18.65)" font-size="8.6" text-anchor="middle" fill="#2a2a2a" stroke="#2a2a2a" stroke-width="0.1" dominant-baseline="central">10</text>
<path d="M142.71,624.01 A71.55,71.55 0 0 1 142.39,623.84 L144.73,619.54 A66.65,66.65 0 0 0 145.03,619.70 Z" fill="#d4d4d4"/>
<path d="M141.74,623.48 A71.55,71.55 0 0 1 141.13,623.14 L143.56,618.88 A66.65,66.65 0 0 0 144.13,619.20 Z" fill="#d4d4d4"/>
<path d="M139.10,621.94 A71.55,71.55 0 0 1 138.38,621.48 L140.99,617.34 A66.65,66.65 0 0 0 141.67,617.76 Z" fill="#8c8c8c"/>
<path d="M138.38,621.48 A71.55,71.55 0 0 1 137.68,621.04 L140.34,616.93 A66.65,66.65 0 0 0 140.99,617.34 Z" fill="#161616"/>
<path d="M136.59,620.32 A71.55,71.55 0 0 1 135.87,619.83 L138.66,615.80 A66.65,66.65 0 0 0 139.33,616.26 Z" fill="#161616"/>
<path d="M134.54,618.88 A71.55,71.55 0 0 1 133.82,618.35 L136.75,614.42 A66.65,66.65 0 0 0 137.42,614.92 Z" fill="#161616"/>
<path d="M132.50,617.34 A71.55,71.55 0 0 1 132.01,616.96 L135.07,613.13 A66.65,66.65 0 0 0 135.52,613.48 Z" fill="#d4d4d4"/>
<path d="M132.01,616.96 A71.55,71.55 0 0 1 131.74,616.74 L134.82,612.93 A66.65,66.65 0 0 0 135.07,613.13 Z" fill="#8c8c8c"/>
<path d="M131.37,616.44 A71.55,71.55 0 0 1 130.97,616.11 L134.09,612.34 A66.65,66.65 0 0 0 134.47,612.64 Z" fill="#8c8c8c"/>
<path d="M129.68,615.02 A71.55,71.55 0 0 1 129.37,614.75 L132.60,611.07 A66.65,66.65 0 0 0 132.89,611.32 Z" fill="#161616"/>
<path d="M137.83,621.14 A71.55,71.55 0 0 1 136.97,620.57 L139.68,616.49 A66.65,66.65 0 0 0 140.49,617.02 Z" fill="#f0b8c0"/>
<path d="M137.56,620.96 A71.55,71.55 0 0 1 137.24,620.75 L139.93,616.66 A66.65,66.65 0 0 0 140.23,616.85 Z" fill="#e48a96"/>
<path d="M143.34,624.35 A71.55,71.55 0 0 1 129.11,614.52 L132.37,610.86 A66.65,66.65 0 0 0 145.62,620.01 Z" fill="none" stroke="#151515" stroke-width="0.9"/>
<text transform="translate(131.58,626.16) rotate(34.64)" font-size="8.6" text-anchor="middle" fill="#2a2a2a" stroke="#2a2a2a" stroke-width="0.1" dominant-baseline="central">11</text>
<path d="M127.06,612.63 A71.55,71.55 0 0 1 126.43,612.01 L129.86,608.52 A66.65,66.65 0 0 0 130.46,609.09 Z" fill="#161616"/>
<path d="M125.69,611.28 A71.55,71.55 0 0 1 125.26,610.83 L128.77,607.42 A66.65,66.65 0 0 0 129.18,607.84 Z" fill="#d4d4d4"/>
<path d="M125.26,610.83 A71.55,71.55 0 0 1 124.89,610.45 L128.43,607.06 A66.65,66.65 0 0 0 128.77,607.42 Z" fill="#161616"/>
<path d="M124.55,610.10 A71.55,71.55 0 0 1 123.99,609.49 L127.59,606.17 A66.65,66.65 0 0 0 128.12,606.74 Z" fill="#161616"/>
<path d="M123.13,608.54 A71.55,71.55 0 0 1 122.86,608.24 L126.54,605.01 A66.65,66.65 0 0 0 126.79,605.28 Z" fill="#d4d4d4"/>
<path d="M121.73,606.92 A71.55,71.55 0 0 1 121.16,606.23 L124.96,603.14 A66.65,66.65 0 0 0 125.49,603.77 Z" fill="#161616"/>
<path d="M119.99,604.76 A71.55,71.55 0 0 1 119.78,604.48 L123.67,601.50 A66.65,66.65 0 0 0 123.87,601.76 Z" fill="#d4d4d4"/>
<path d="M119.55,604.18 A71.55,71.55 0 0 1 119.27,603.81 L123.20,600.88 A66.65,66.65 0 0 0 123.46,601.22 Z" fill="#161616"/>
<path d="M118.73,603.08 A71.55,71.55 0 0 1 118.33,602.52 L122.32,599.68 A66.65,66.65 0 0 0 122.69,600.20 Z" fill="#8c8c8c"/>
<path d="M118.33,602.52 A71.55,71.55 0 0 1 117.84,601.83 L121.87,599.03 A66.65,66.65 0 0 0 122.32,599.68 Z" fill="#161616"/>
<path d="M117.58,601.45 A71.55,71.55 0 0 1 117.15,600.82 L121.23,598.09 A66.65,66.65 0 0 0 121.62,598.68 Z" fill="#161616"/>
<path d="M124.33,609.86 A71.55,71.55 0 0 1 123.64,609.11 L127.26,605.81 A66.65,66.65 0 0 0 127.91,606.51 Z" fill="#f0b8c0"/>
<path d="M124.11,609.63 A71.55,71.55 0 0 1 123.85,609.34 L127.46,606.03 A66.65,66.65 0 0 0 127.71,606.30 Z" fill="#e48a96"/>
<path d="M127.20,612.76 A71.55,71.55 0 0 1 116.31,599.53 L120.44,596.89 A66.65,66.65 0 0 0 130.59,609.22 Z" fill="none" stroke="#151515" stroke-width="0.9"/>
<text transform="translate(115.45,611.33) rotate(50.54)" font-size="8.6" text-anchor="middle" fill="#2a2a2a" stroke="#2a2a2a" stroke-width="0.1" dominant-baseline="central">12</text>
<path d="M114.85,597.15 A71.55,71.55 0 0 1 114.50,596.55 L118.76,594.11 A66.65,66.65 0 0 0 119.08,594.67 Z" fill="#161616"/>
<path d="M112.92,593.63 A71.55,71.55 0 0 1 112.60,592.99 L116.98,590.80 A66.65,66.65 0 0 0 117.28,591.39 Z" fill="#161616"/>
<path d="M111.39,590.44 A71.55,71.55 0 0 1 111.18,589.98 L115.66,588.00 A66.65,66.65 0 0 0 115.85,588.42 Z" fill="#d4d4d4"/>
<path d="M111.18,589.98 A71.55,71.55 0 0 1 110.96,589.47 L115.45,587.52 A66.65,66.65 0 0 0 115.66,588.00 Z" fill="#161616"/>
<path d="M110.39,588.11 A71.55,71.55 0 0 1 110.14,587.51 L114.69,585.69 A66.65,66.65 0 0 0 114.92,586.25 Z" fill="#d4d4d4"/>
<path d="M109.92,586.94 A71.55,71.55 0 0 1 109.66,586.26 L114.24,584.53 A66.65,66.65 0 0 0 114.49,585.17 Z" fill="#161616"/>
<path d="M109.66,586.26 A71.55,71.55 0 0 1 109.52,585.91 L114.12,584.20 A66.65,66.65 0 0 0 114.24,584.53 Z" fill="#8c8c8c"/>
<path d="M109.34,585.40 A71.55,71.55 0 0 1 109.06,584.61 L113.68,583.00 A66.65,66.65 0 0 0 113.95,583.73 Z" fill="#161616"/>
<path d="M114.06,595.76 A71.55,71.55 0 0 1 113.57,594.86 L117.89,592.54 A66.65,66.65 0 0 0 118.35,593.38 Z" fill="#f0b8c0"/>
<path d="M113.91,595.48 A71.55,71.55 0 0 1 113.72,595.14 L118.03,592.81 A66.65,66.65 0 0 0 118.20,593.12 Z" fill="#e48a96"/>
<path d="M114.92,597.26 A71.55,71.55 0 0 1 114.31,596.20 L118.57,593.79 A66.65,66.65 0 0 0 119.14,594.77 Z" fill="#f2c4ca"/>
<path d="M114.95,597.31 A71.55,71.55 0 0 1 108.81,583.89 L113.45,582.32 A66.65,66.65 0 0 0 119.17,594.83 Z" fill="none" stroke="#151515" stroke-width="0.9"/>
<text transform="translate(104.57,593.94) rotate(65.42)" font-size="8.6" text-anchor="middle" fill="#2a2a2a" stroke="#2a2a2a" stroke-width="0.1" dominant-baseline="central">13</text>
<path d="M107.73,580.41 A71.55,71.55 0 0 1 107.59,579.88 L112.31,578.59 A66.65,66.65 0 0 0 112.45,579.08 Z" fill="#161616"/>
<path d="M107.00,577.59 A71.55,71.55 0 0 1 106.89,577.14 L111.67,576.04 A66.65,66.65 0 0 0 111.77,576.46 Z" fill="#161616"/>
<path d="M106.72,576.36 A71.55,71.55 0 0 1 106.59,575.75 L111.38,574.74 A66.65,66.65 0 0 0 111.50,575.31 Z" fill="#8c8c8c"/>
<path d="M106.59,575.75 A71.55,71.55 0 0 1 106.42,574.96 L111.23,574.00 A66.65,66.65 0 0 0 111.38,574.74 Z" fill="#d4d4d4"/>
<path d="M106.27,574.18 A71.55,71.55 0 0 1 106.19,573.70 L111.01,572.83 A66.65,66.65 0 0 0 111.09,573.28 Z" fill="#161616"/>
<path d="M105.92,572.13 A71.55,71.55 0 0 1 105.85,571.68 L110.70,570.94 A66.65,66.65 0 0 0 110.76,571.37 Z" fill="#161616"/>
<path d="M105.79,571.28 A71.55,71.55 0 0 1 105.73,570.86 L110.59,570.18 A66.65,66.65 0 0 0 110.64,570.57 Z" fill="#161616"/>
<path d="M105.73,570.86 A71.55,71.55 0 0 1 105.64,570.15 L110.50,569.52 A66.65,66.65 0 0 0 110.59,570.18 Z" fill="#d4d4d4"/>
<path d="M105.50,569.00 A71.55,71.55 0 0 1 105.45,568.57 L110.32,568.05 A66.65,66.65 0 0 0 110.37,568.45 Z" fill="#161616"/>
<path d="M107.55,579.73 A71.55,71.55 0 0 1 107.28,578.74 L112.03,577.52 A66.65,66.65 0 0 0 112.27,578.45 Z" fill="#f0b8c0"/>
<path d="M107.46,579.42 A71.55,71.55 0 0 1 107.36,579.05 L112.11,577.81 A66.65,66.65 0 0 0 112.20,578.16 Z" fill="#e48a96"/>
<path d="M108.00,581.35 A71.55,71.55 0 0 1 107.67,580.18 L112.39,578.86 A66.65,66.65 0 0 0 112.70,579.95 Z" fill="#f2c4ca"/>
<path d="M108.02,581.41 A71.55,71.55 0 0 1 105.38,567.90 L110.26,567.43 A66.65,66.65 0 0 0 112.72,580.01 Z" fill="none" stroke="#151515" stroke-width="0.9"/>
<text transform="translate(98.87,576.19) rotate(78.94)" font-size="8.6" text-anchor="middle" fill="#2a2a2a" stroke="#2a2a2a" stroke-width="0.1" dominant-baseline="central">14</text>
<path d="M105.17,565.12 A71.55,71.55 0 0 1 105.12,564.25 L110.02,564.02 A66.65,66.65 0 0 0 110.06,564.84 Z" fill="#d4d4d4"/>
<path d="M105.10,563.71 A71.55,71.55 0 0 1 105.08,563.16 L109.98,563.01 A66.65,66.65 0 0 0 110.00,563.52 Z" fill="#161616"/>
<path d="M105.05,561.38 A71.55,71.55 0 0 1 105.05,560.52 L109.95,560.55 A66.65,66.65 0 0 0 109.95,561.36 Z" fill="#161616"/>
<path d="M105.06,559.63 A71.55,71.55 0 0 1 105.08,559.11 L109.97,559.23 A66.65,66.65 0 0 0 109.96,559.72 Z" fill="#161616"/>
<path d="M105.08,559.11 A71.55,71.55 0 0 1 105.09,558.50 L109.99,558.68 A66.65,66.65 0 0 0 109.97,559.23 Z" fill="#8c8c8c"/>
<path d="M105.11,558.00 A71.55,71.55 0 0 1 105.14,557.48 L110.03,557.72 A66.65,66.65 0 0 0 110.01,558.21 Z" fill="#8c8c8c"/>
<path d="M105.14,557.48 A71.55,71.55 0 0 1 105.18,556.71 L110.07,557.00 A66.65,66.65 0 0 0 110.03,557.72 Z" fill="#d4d4d4"/>
<path d="M105.22,556.12 A71.55,71.55 0 0 1 105.26,555.55 L110.14,555.92 A66.65,66.65 0 0 0 110.11,556.46 Z" fill="#d4d4d4"/>
<path d="M105.32,554.75 A71.55,71.55 0 0 1 105.38,554.09 L110.26,554.56 A66.65,66.65 0 0 0 110.20,555.18 Z" fill="#161616"/>
<path d="M105.47,553.28 A71.55,71.55 0 0 1 105.57,552.41 L110.43,553.00 A66.65,66.65 0 0 0 110.34,553.81 Z" fill="#161616"/>
<path d="M105.09,563.39 A71.55,71.55 0 0 1 105.06,562.36 L109.96,562.27 A66.65,66.65 0 0 0 109.99,563.23 Z" fill="#f0b8c0"/>
<path d="M105.08,563.07 A71.55,71.55 0 0 1 105.07,562.68 L109.97,562.57 A66.65,66.65 0 0 0 109.98,562.93 Z" fill="#e48a96"/>
<path d="M105.18,565.25 A71.55,71.55 0 0 1 105.11,564.03 L110.01,563.82 A66.65,66.65 0 0 0 110.07,564.96 Z" fill="#f2c4ca"/>
<path d="M105.18,565.31 A71.55,71.55 0 0 1 105.60,552.18 L110.46,552.78 A66.65,66.65 0 0 0 110.07,565.02 Z" fill="none" stroke="#151515" stroke-width="0.9"/>
<text transform="translate(97.44,558.49) rotate(271.81)" font-size="8.6" text-anchor="middle" fill="#2a2a2a" stroke="#2a2a2a" stroke-width="0.1" dominant-baseline="central">15</text>
<path d="M106.37,547.30 A71.55,71.55 0 0 1 106.44,546.98 L111.24,547.94 A66.65,66.65 0 0 0 111.18,548.24 Z" fill="#161616"/>
<path d="M106.59,546.22 A71.55,71.55 0 0 1 106.75,545.51 L111.53,546.58 A66.65,66.65 0 0 0 111.39,547.23 Z" fill="#d4d4d4"/>
<path d="M107.06,544.15 A71.55,71.55 0 0 1 107.16,543.76 L111.91,544.94 A66.65,66.65 0 0 0 111.82,545.31 Z" fill="#d4d4d4"/>
<path d="M107.42,542.75 A71.55,71.55 0 0 1 107.55,542.24 L112.28,543.52 A66.65,66.65 0 0 0 112.15,544.00 Z" fill="#d4d4d4"/>
<path d="M107.55,542.24 A71.55,71.55 0 0 1 107.79,541.38 L112.50,542.73 A66.65,66.65 0 0 0 112.28,543.52 Z" fill="#161616"/>
<path d="M108.02,540.60 A71.55,71.55 0 0 1 108.16,540.13 L112.85,541.56 A66.65,66.65 0 0 0 112.72,541.99 Z" fill="#161616"/>
<path d="M108.30,539.68 A71.55,71.55 0 0 1 108.49,539.09 L113.15,540.59 A66.65,66.65 0 0 0 112.98,541.14 Z" fill="#8c8c8c"/>
<path d="M108.49,539.09 A71.55,71.55 0 0 1 108.65,538.60 L113.30,540.13 A66.65,66.65 0 0 0 113.15,540.59 Z" fill="#d4d4d4"/>
<path d="M108.65,538.60 A71.55,71.55 0 0 1 108.73,538.35 L113.38,539.91 A66.65,66.65 0 0 0 113.30,540.13 Z" fill="#161616"/>
<path d="M106.75,545.50 A71.55,71.55 0 0 1 106.98,544.50 L111.75,545.63 A66.65,66.65 0 0 0 111.53,546.56 Z" fill="#f0b8c0"/>
<path d="M106.82,545.18 A71.55,71.55 0 0 1 106.91,544.81 L111.68,545.92 A66.65,66.65 0 0 0 111.60,546.27 Z" fill="#e48a96"/>
<path d="M106.90,544.82 A71.55,71.55 0 0 1 107.14,543.82 L111.90,545.00 A66.65,66.65 0 0 0 111.68,545.93 Z" fill="#f2c4ca"/>
<path d="M105.96,549.61 A71.55,71.55 0 0 1 108.73,538.35 L113.38,539.91 A66.65,66.65 0 0 0 110.80,550.39 Z" fill="none" stroke="#151515" stroke-width="0.9"/>
<text transform="translate(99.69,542.10) rotate(283.81)" font-size="8.6" text-anchor="middle" fill="#2a2a2a" stroke="#2a2a2a" stroke-width="0.1" dominant-baseline="central">16</text>
<path d="M109.87,535.18 A71.55,71.55 0 0 1 110.10,534.60 L114.65,536.41 A66.65,66.65 0 0 0 114.44,536.95 Z" fill="#161616"/>
<path d="M110.10,534.60 A71.55,71.55 0 0 1 110.43,533.77 L114.96,535.64 A66.65,66.65 0 0 0 114.65,536.41 Z" fill="#d4d4d4"/>
<path d="M111.12,532.16 A71.55,71.55 0 0 1 111.26,531.84 L115.74,533.84 A66.65,66.65 0 0 0 115.60,534.14 Z" fill="#161616"/>
<path d="M111.71,530.86 A71.55,71.55 0 0 1 111.98,530.28 L116.41,532.39 A66.65,66.65 0 0 0 116.15,532.92 Z" fill="#161616"/>
<path d="M113.02,528.18 A71.55,71.55 0 0 1 113.35,527.56 L117.68,529.85 A66.65,66.65 0 0 0 117.38,530.43 Z" fill="#161616"/>
<path d="M110.54,533.52 A71.55,71.55 0 0 1 110.94,532.57 L115.44,534.52 A66.65,66.65 0 0 0 115.06,535.40 Z" fill="#f0b8c0"/>
<path d="M110.66,533.22 A71.55,71.55 0 0 1 110.81,532.87 L115.32,534.79 A66.65,66.65 0 0 0 115.18,535.12 Z" fill="#e48a96"/>
<path d="M109.59,535.91 A71.55,71.55 0 0 1 113.95,526.44 L118.24,528.81 A66.65,66.65 0 0 0 114.18,537.62 Z" fill="none" stroke="#151515" stroke-width="0.9"/>
<text transform="translate(104.65,527.90) rotate(294.71)" font-size="8.6" text-anchor="middle" fill="#2a2a2a" stroke="#2a2a2a" stroke-width="0.1" dominant-baseline="central">17</text>
<path d="M116.83,521.67 A71.55,71.55 0 0 1 117.27,521.00 L121.34,523.74 A66.65,66.65 0 0 0 120.92,524.36 Z" fill="#161616"/>
<path d="M118.65,519.04 A71.55,71.55 0 0 1 119.00,518.56 L122.94,521.47 A66.65,66.65 0 0 0 122.61,521.91 Z" fill="#161616"/>
<path d="M119.29,518.17 A71.55,71.55 0 0 1 119.77,517.53 L123.66,520.51 A66.65,66.65 0 0 0 123.21,521.10 Z" fill="#d4d4d4"/>
<path d="M116.13,522.75 A71.55,71.55 0 0 1 116.69,521.89 L120.79,524.56 A66.65,66.65 0 0 0 120.27,525.37 Z" fill="#f0b8c0"/>
<path d="M116.30,522.48 A71.55,71.55 0 0 1 116.51,522.15 L120.63,524.81 A66.65,66.65 0 0 0 120.43,525.12 Z" fill="#e48a96"/>
<path d="M115.24,524.19 A71.55,71.55 0 0 1 120.99,515.98 L124.80,519.07 A66.65,66.65 0 0 0 119.45,526.71 Z" fill="none" stroke="#151515" stroke-width="0.9"/>
<text transform="translate(111.70,515.60) rotate(304.97)" font-size="8.6" text-anchor="middle" fill="#2a2a2a" stroke="#2a2a2a" stroke-width="0.1" dominant-baseline="central">18</text>
<path d="M123.19,513.39 A71.55,71.55 0 0 1 123.65,512.88 L127.28,516.17 A66.65,66.65 0 0 0 126.85,516.65 Z" fill="#d4d4d4"/>
<path d="M124.04,512.46 A71.55,71.55 0 0 1 124.64,511.81 L128.20,515.18 A66.65,66.65 0 0 0 127.64,515.78 Z" fill="#8c8c8c"/>
<path d="M126.10,510.32 A71.55,71.55 0 0 1 126.69,509.73 L130.11,513.24 A66.65,66.65 0 0 0 129.56,513.79 Z" fill="#161616"/>
<path d="M127.06,509.37 A71.55,71.55 0 0 1 127.54,508.92 L130.90,512.49 A66.65,66.65 0 0 0 130.45,512.91 Z" fill="#161616"/>
<path d="M124.60,511.85 A71.55,71.55 0 0 1 125.31,511.11 L128.82,514.53 A66.65,66.65 0 0 0 128.16,515.22 Z" fill="#f0b8c0"/>
<path d="M124.82,511.62 A71.55,71.55 0 0 1 125.09,511.34 L128.61,514.74 A66.65,66.65 0 0 0 128.37,515.00 Z" fill="#e48a96"/>
<path d="M122.66,513.99 A71.55,71.55 0 0 1 127.94,508.55 L131.27,512.14 A66.65,66.65 0 0 0 126.35,517.21 Z" fill="none" stroke="#151515" stroke-width="0.9"/>
<text transform="translate(119.73,505.88) rotate(314.11)" font-size="8.6" text-anchor="middle" fill="#2a2a2a" stroke="#2a2a2a" stroke-width="0.1" dominant-baseline="central">19</text>
<path d="M130.02,506.69 A71.55,71.55 0 0 1 130.30,506.45 L133.47,510.18 A66.65,66.65 0 0 0 133.21,510.41 Z" fill="#d4d4d4"/>
<path d="M130.30,506.45 A71.55,71.55 0 0 1 130.56,506.23 L133.71,509.98 A66.65,66.65 0 0 0 133.47,510.18 Z" fill="#161616"/>
<path d="M130.56,506.23 A71.55,71.55 0 0 1 131.04,505.83 L134.16,509.61 A66.65,66.65 0 0 0 133.71,509.98 Z" fill="#d4d4d4"/>
<path d="M131.32,505.60 A71.55,71.55 0 0 1 131.78,505.22 L134.85,509.04 A66.65,66.65 0 0 0 134.42,509.39 Z" fill="#161616"/>
<path d="M133.48,503.91 A71.55,71.55 0 0 1 133.87,503.61 L136.80,507.54 A66.65,66.65 0 0 0 136.43,507.82 Z" fill="#161616"/>
<path d="M133.87,503.61 A71.55,71.55 0 0 1 134.19,503.37 L137.10,507.32 A66.65,66.65 0 0 0 136.80,507.54 Z" fill="#d4d4d4"/>
<path d="M134.74,502.97 A71.55,71.55 0 0 1 135.36,502.53 L138.19,506.53 A66.65,66.65 0 0 0 137.61,506.95 Z" fill="#161616"/>
<path d="M135.36,502.53 A71.55,71.55 0 0 1 136.03,502.06 L138.81,506.10 A66.65,66.65 0 0 0 138.19,506.53 Z" fill="#8c8c8c"/>
<path d="M132.20,504.89 A71.55,71.55 0 0 1 133.01,504.26 L135.99,508.15 A66.65,66.65 0 0 0 135.24,508.74 Z" fill="#f0b8c0"/>
<path d="M132.45,504.70 A71.55,71.55 0 0 1 132.75,504.46 L135.76,508.33 A66.65,66.65 0 0 0 135.47,508.55 Z" fill="#e48a96"/>
<path d="M129.87,506.82 A71.55,71.55 0 0 1 136.28,501.89 L139.04,505.94 A66.65,66.65 0 0 0 133.07,510.53 Z" fill="none" stroke="#151515" stroke-width="0.9"/>
<text transform="translate(128.35,498.20) rotate(322.46)" font-size="8.6" text-anchor="middle" fill="#2a2a2a" stroke="#2a2a2a" stroke-width="0.1" dominant-baseline="central">20</text>
<path d="M139.10,500.06 A71.55,71.55 0 0 1 139.47,499.84 L142.02,504.03 A66.65,66.65 0 0 0 141.67,504.24 Z" fill="#161616"/>
<path d="M142.02,498.36 A71.55,71.55 0 0 1 142.50,498.10 L144.83,502.41 A66.65,66.65 0 0 0 144.39,502.65 Z" fill="#161616"/>
<path d="M139.46,499.84 A71.55,71.55 0 0 1 140.34,499.32 L142.82,503.54 A66.65,66.65 0 0 0 142.00,504.03 Z" fill="#f0b8c0"/>
<path d="M139.73,499.68 A71.55,71.55 0 0 1 140.06,499.48 L142.57,503.69 A66.65,66.65 0 0 0 142.26,503.88 Z" fill="#e48a96"/>
<path d="M138.51,500.43 A71.55,71.55 0 0 1 139.55,499.79 L142.08,503.98 A66.65,66.65 0 0 0 141.12,504.58 Z" fill="#f2c4ca"/>
<path d="M138.45,500.47 A71.55,71.55 0 0 1 143.82,497.40 L146.06,501.76 A66.65,66.65 0 0 0 141.07,504.61 Z" fill="none" stroke="#151515" stroke-width="0.9"/>
<text transform="translate(137.31,492.23) rotate(330.26)" font-size="8.6" text-anchor="middle" fill="#2a2a2a" stroke="#2a2a2a" stroke-width="0.1" dominant-baseline="central">21</text>
<path d="M146.70,496.00 A71.55,71.55 0 0 1 147.13,495.80 L149.15,500.26 A66.65,66.65 0 0 0 148.75,500.45 Z" fill="#8c8c8c"/>
<path d="M149.28,494.87 A71.55,71.55 0 0 1 149.94,494.60 L151.76,499.15 A66.65,66.65 0 0 0 151.15,499.40 Z" fill="#d4d4d4"/>
<path d="M149.94,494.60 A71.55,71.55 0 0 1 150.33,494.45 L152.13,499.01 A66.65,66.65 0 0 0 151.76,499.15 Z" fill="#8c8c8c"/>
<path d="M150.33,494.45 A71.55,71.55 0 0 1 150.84,494.25 L152.60,498.82 A66.65,66.65 0 0 0 152.13,499.01 Z" fill="#d4d4d4"/>
<path d="M152.00,493.81 A71.55,71.55 0 0 1 152.23,493.73 L153.90,498.34 A66.65,66.65 0 0 0 153.69,498.41 Z" fill="#161616"/>
<path d="M147.39,495.68 A71.55,71.55 0 0 1 148.33,495.27 L150.27,499.77 A66.65,66.65 0 0 0 149.39,500.16 Z" fill="#f0b8c0"/>
<path d="M147.69,495.55 A71.55,71.55 0 0 1 148.04,495.40 L150.00,499.89 A66.65,66.65 0 0 0 149.67,500.03 Z" fill="#e48a96"/>
<path d="M146.20,496.23 A71.55,71.55 0 0 1 147.31,495.72 L149.32,500.19 A66.65,66.65 0 0 0 148.28,500.66 Z" fill="#f2c4ca"/>
<path d="M146.15,496.26 A71.55,71.55 0 0 1 152.23,493.73 L153.90,498.34 A66.65,66.65 0 0 0 148.23,500.69 Z" fill="none" stroke="#151515" stroke-width="0.9"/>
<text transform="translate(146.22,487.86) rotate(337.45)" font-size="8.6" text-anchor="middle" fill="#2a2a2a" stroke="#2a2a2a" stroke-width="0.1" dominant-baseline="central">22</text>
<path d="M154.87,492.83 A71.55,71.55 0 0 1 155.44,492.65 L156.89,497.33 A66.65,66.65 0 0 0 156.36,497.50 Z" fill="#d4d4d4"/>
<path d="M155.44,492.65 A71.55,71.55 0 0 1 155.90,492.51 L157.32,497.20 A66.65,66.65 0 0 0 156.89,497.33 Z" fill="#161616"/>
<path d="M156.59,492.31 A71.55,71.55 0 0 1 157.35,492.09 L158.67,496.81 A66.65,66.65 0 0 0 157.96,497.01 Z" fill="#161616"/>
<path d="M159.14,491.61 A71.55,71.55 0 0 1 159.87,491.43 L161.01,496.20 A66.65,66.65 0 0 0 160.34,496.36 Z" fill="#d4d4d4"/>
<path d="M161.03,491.16 A71.55,71.55 0 0 1 161.65,491.03 L162.67,495.82 A66.65,66.65 0 0 0 162.10,495.95 Z" fill="#161616"/>
<path d="M163.29,490.70 A71.55,71.55 0 0 1 164.04,490.56 L164.90,495.39 A66.65,66.65 0 0 0 164.20,495.51 Z" fill="#d4d4d4"/>
<path d="M164.04,490.56 A71.55,71.55 0 0 1 164.53,490.48 L165.35,495.31 A66.65,66.65 0 0 0 164.90,495.39 Z" fill="#161616"/>
<path d="M164.53,490.48 A71.55,71.55 0 0 1 165.35,490.34 L166.12,495.18 A66.65,66.65 0 0 0 165.35,495.31 Z" fill="#d4d4d4"/>
<path d="M165.35,490.34 A71.55,71.55 0 0 1 166.23,490.21 L166.94,495.05 A66.65,66.65 0 0 0 166.12,495.18 Z" fill="#161616"/>
<path d="M166.98,490.10 A71.55,71.55 0 0 1 167.30,490.06 L167.94,494.92 A66.65,66.65 0 0 0 167.63,494.96 Z" fill="#8c8c8c"/>
<path d="M168.04,489.96 A71.55,71.55 0 0 1 168.63,489.89 L169.18,494.76 A66.65,66.65 0 0 0 168.63,494.83 Z" fill="#d4d4d4"/>
<path d="M168.63,489.89 A71.55,71.55 0 0 1 169.10,489.84 L169.61,494.72 A66.65,66.65 0 0 0 169.18,494.76 Z" fill="#8c8c8c"/>
<path d="M169.74,489.78 A71.55,71.55 0 0 1 170.12,489.74 L170.57,494.62 A66.65,66.65 0 0 0 170.21,494.66 Z" fill="#d4d4d4"/>
<path d="M170.12,489.74 A71.55,71.55 0 0 1 170.63,489.70 L171.03,494.58 A66.65,66.65 0 0 0 170.57,494.62 Z" fill="#8c8c8c"/>
<path d="M173.34,489.52 A71.55,71.55 0 0 1 173.97,489.50 L174.15,494.40 A66.65,66.65 0 0 0 173.56,494.42 Z" fill="#161616"/>
<path d="M161.70,491.02 A71.55,71.55 0 0 1 162.71,490.81 L163.66,495.62 A66.65,66.65 0 0 0 162.72,495.81 Z" fill="#f0b8c0"/>
<path d="M162.02,490.95 A71.55,71.55 0 0 1 162.39,490.87 L163.37,495.68 A66.65,66.65 0 0 0 163.02,495.75 Z" fill="#e48a96"/>
<path d="M154.68,492.89 A71.55,71.55 0 0 1 174.27,489.49 L174.43,494.39 A66.65,66.65 0 0 0 156.18,497.55 Z" fill="none" stroke="#151515" stroke-width="0.9"/>
<text transform="translate(163.05,482.97) rotate(350.15)" font-size="8.6" text-anchor="middle" fill="#2a2a2a" stroke="#2a2a2a" stroke-width="0.1" dominant-baseline="central">X</text>
<path d="M160.67,499.53 Q176.60,561.00 186.32,623.75" fill="none" stroke="#62b350" stroke-width="0.95"/>
<line x1="155.28" y1="478.72" x2="151.77" y2="465.16" stroke="#62b350" stroke-width="0.9"/>
<text transform="translate(151.39,463.71) rotate(75.47)" font-size="9" text-anchor="end" fill="#62b350" stroke="#62b350" stroke-width="0.1" textLength="22.00" lengthAdjust="spacingAndGlyphs" dominant-baseline="central">DMD</text>
<line x1="189.61" y1="645.00" x2="191.75" y2="658.83" stroke="#62b350" stroke-width="0.9"/>
<text transform="translate(191.98,660.32) rotate(81.20)" font-size="9" text-anchor="start" fill="#62b350" stroke="#62b350" stroke-width="0.1" textLength="21.50" lengthAdjust="spacingAndGlyphs" dominant-baseline="central">MYC</text>
<text x="378.70" y="436.20" font-size="9.5" text-anchor="middle" fill="#2a2a2a" stroke="#2a2a2a" stroke-width="0.1" textLength="35.00" lengthAdjust="spacingAndGlyphs">post-HT</text>
<path d="M379.11,490.45 A65.14999999999999,65.14999999999999 0 0 1 379.53,490.46 L379.47,494.95 A60.650000000000006,60.650000000000006 0 0 0 379.09,494.95 Z" fill="#d4d4d4"/>
<path d="M380.64,490.48 A65.14999999999999,65.14999999999999 0 0 1 380.94,490.49 L380.78,494.99 A60.650000000000006,60.650000000000006 0 0 0 380.51,494.98 Z" fill="#161616"/>
<path d="M383.54,490.63 A65.14999999999999,65.14999999999999 0 0 1 384.16,490.68 L383.79,495.16 A60.650000000000006,60.650000000000006 0 0 0 383.21,495.12 Z" fill="#161616"/>
<path d="M384.16,490.68 A65.14999999999999,65.14999999999999 0 0 1 384.73,490.73 L384.31,495.21 A60.650000000000006,60.650000000000006 0 0 0 383.79,495.16 Z" fill="#8c8c8c"/>
<path d="M385.37,490.79 A65.14999999999999,65.14999999999999 0 0 1 386.06,490.87 L385.55,495.34 A60.650000000000006,60.650000000000006 0 0 0 384.91,495.27 Z" fill="#d4d4d4"/>
<path d="M387.25,491.01 A65.14999999999999,65.14999999999999 0 0 1 387.91,491.10 L387.28,495.56 A60.650000000000006,60.650000000000006 0 0 0 386.66,495.47 Z" fill="#161616"/>
<path d="M388.57,491.20 A65.14999999999999,65.14999999999999 0 0 1 389.07,491.28 L388.35,495.72 A60.650000000000006,60.650000000000006 0 0 0 387.89,495.65 Z" fill="#161616"/>
<path d="M392.63,491.96 A65.14999999999999,65.14999999999999 0 0 1 393.10,492.06 L392.10,496.45 A60.650000000000006,60.650000000000006 0 0 0 391.67,496.35 Z" fill="#d4d4d4"/>
<path d="M394.31,492.35 A65.14999999999999,65.14999999999999 0 0 1 395.03,492.53 L393.90,496.89 A60.650000000000006,60.650000000000006 0 0 0 393.23,496.72 Z" fill="#161616"/>
<path d="M395.66,492.70 A65.14999999999999,65.14999999999999 0 0 1 396.37,492.89 L395.15,497.22 A60.650000000000006,60.650000000000006 0 0 0 394.49,497.04 Z" fill="#161616"/>
<path d="M396.37,492.89 A65.14999999999999,65.14999999999999 0 0 1 397.11,493.11 L395.84,497.42 A60.650000000000006,60.650000000000006 0 0 0 395.15,497.22 Z" fill="#d4d4d4"/>
<path d="M397.75,493.30 A65.14999999999999,65.14999999999999 0 0 1 398.45,493.52 L397.08,497.80 A60.650000000000006,60.650000000000006 0 0 0 396.44,497.60 Z" fill="#d4d4d4"/>
<path d="M398.87,493.65 A65.14999999999999,65.14999999999999 0 0 1 399.57,493.88 L398.13,498.15 A60.650000000000006,60.650000000000006 0 0 0 397.48,497.93 Z" fill="#161616"/>
<path d="M400.37,494.16 A65.14999999999999,65.14999999999999 0 0 1 400.80,494.31 L399.27,498.54 A60.650000000000006,60.650000000000006 0 0 0 398.88,498.40 Z" fill="#161616"/>
<path d="M402.70,495.03 A65.14999999999999,65.14999999999999 0 0 1 403.40,495.31 L401.70,499.48 A60.650000000000006,60.650000000000006 0 0 0 401.04,499.22 Z" fill="#161616"/>
<path d="M405.81,496.36 A65.14999999999999,65.14999999999999 0 0 1 406.10,496.49 L404.21,500.57 A60.650000000000006,60.650000000000006 0 0 0 403.94,500.45 Z" fill="#161616"/>
<path d="M392.97,492.03 A65.14999999999999,65.14999999999999 0 0 1 393.88,492.24 L392.83,496.62 A60.650000000000006,60.650000000000006 0 0 0 391.98,496.42 Z" fill="#f0b8c0"/>
<path d="M393.25,492.10 A65.14999999999999,65.14999999999999 0 0 1 393.59,492.18 L392.57,496.56 A60.650000000000006,60.650000000000006 0 0 0 392.25,496.48 Z" fill="#e48a96"/>
<path d="M393.42,492.14 A65.14999999999999,65.14999999999999 0 0 1 395.35,492.61 L394.20,496.96 A60.650000000000006,60.650000000000006 0 0 0 392.41,496.52 Z" fill="#f2c4ca"/>
<path d="M378.94,490.45 A65.14999999999999,65.14999999999999 0 0 1 407.09,496.96 L405.13,501.01 A60.650000000000006,60.650000000000006 0 0 0 378.92,494.95 Z" fill="none" stroke="#151515" stroke-width="0.9"/>
<text transform="translate(395.11,484.67) rotate(13.02)" font-size="8.0" text-anchor="middle" fill="#2a2a2a" stroke="#2a2a2a" stroke-width="0.1" dominant-baseline="central">1</text>
<path d="M409.36,498.11 A65.14999999999999,65.14999999999999 0 0 1 409.83,498.37 L407.68,502.32 A60.650000000000006,60.650000000000006 0 0 0 407.24,502.08 Z" fill="#d4d4d4"/>
<path d="M410.38,498.67 A65.14999999999999,65.14999999999999 0 0 1 410.89,498.96 L408.67,502.87 A60.650000000000006,60.650000000000006 0 0 0 408.19,502.60 Z" fill="#d4d4d4"/>
<path d="M411.57,499.35 A65.14999999999999,65.14999999999999 0 0 1 412.02,499.62 L409.72,503.48 A60.650000000000006,60.650000000000006 0 0 0 409.30,503.24 Z" fill="#8c8c8c"/>
<path d="M412.38,499.83 A65.14999999999999,65.14999999999999 0 0 1 413.07,500.25 L410.69,504.07 A60.650000000000006,60.650000000000006 0 0 0 410.05,503.68 Z" fill="#d4d4d4"/>
<path d="M413.56,500.56 A65.14999999999999,65.14999999999999 0 0 1 413.99,500.83 L411.55,504.62 A60.650000000000006,60.650000000000006 0 0 0 411.15,504.36 Z" fill="#d4d4d4"/>
<path d="M415.82,502.06 A65.14999999999999,65.14999999999999 0 0 1 416.36,502.44 L413.76,506.11 A60.650000000000006,60.650000000000006 0 0 0 413.25,505.76 Z" fill="#8c8c8c"/>
<path d="M416.61,502.61 A65.14999999999999,65.14999999999999 0 0 1 417.13,502.99 L414.48,506.63 A60.650000000000006,60.650000000000006 0 0 0 413.99,506.27 Z" fill="#161616"/>
<path d="M419.63,504.91 A65.14999999999999,65.14999999999999 0 0 1 420.09,505.29 L417.23,508.76 A60.650000000000006,60.650000000000006 0 0 0 416.80,508.41 Z" fill="#8c8c8c"/>
<path d="M423.21,508.03 A65.14999999999999,65.14999999999999 0 0 1 423.55,508.35 L420.46,511.61 A60.650000000000006,60.650000000000006 0 0 0 420.14,511.31 Z" fill="#d4d4d4"/>
<path d="M424.80,509.56 A65.14999999999999,65.14999999999999 0 0 1 425.30,510.07 L422.08,513.22 A60.650000000000006,60.650000000000006 0 0 0 421.61,512.74 Z" fill="#161616"/>
<path d="M425.57,510.35 A65.14999999999999,65.14999999999999 0 0 1 426.07,510.87 L422.80,513.96 A60.650000000000006,60.650000000000006 0 0 0 422.34,513.48 Z" fill="#d4d4d4"/>
<path d="M428.43,513.52 A65.14999999999999,65.14999999999999 0 0 1 428.62,513.74 L425.18,516.63 A60.650000000000006,60.650000000000006 0 0 0 425.00,516.42 Z" fill="#161616"/>
<path d="M429.11,514.32 A65.14999999999999,65.14999999999999 0 0 1 429.43,514.73 L425.93,517.55 A60.650000000000006,60.650000000000006 0 0 0 425.62,517.17 Z" fill="#161616"/>
<path d="M429.92,515.34 A65.14999999999999,65.14999999999999 0 0 1 430.34,515.88 L426.77,518.62 A60.650000000000006,60.650000000000006 0 0 0 426.38,518.12 Z" fill="#161616"/>
<path d="M418.00,503.64 A65.14999999999999,65.14999999999999 0 0 1 418.74,504.21 L415.97,507.76 A60.650000000000006,60.650000000000006 0 0 0 415.28,507.23 Z" fill="#f0b8c0"/>
<path d="M418.23,503.81 A65.14999999999999,65.14999999999999 0 0 1 418.51,504.03 L415.76,507.59 A60.650000000000006,60.650000000000006 0 0 0 415.50,507.39 Z" fill="#e48a96"/>
<path d="M409.20,498.03 A65.14999999999999,65.14999999999999 0 0 1 430.68,516.32 L427.09,519.03 A60.650000000000006,60.650000000000006 0 0 0 407.10,502.01 Z" fill="none" stroke="#151515" stroke-width="0.9"/>
<text transform="translate(425.90,500.18) rotate(40.42)" font-size="8.0" text-anchor="middle" fill="#2a2a2a" stroke="#2a2a2a" stroke-width="0.1" dominant-baseline="central">2</text>
<path d="M433.38,520.18 A65.14999999999999,65.14999999999999 0 0 1 433.80,520.83 L429.99,523.23 A60.650000000000006,60.650000000000006 0 0 0 429.61,522.63 Z" fill="#8c8c8c"/>
<path d="M433.80,520.83 A65.14999999999999,65.14999999999999 0 0 1 434.21,521.49 L430.37,523.85 A60.650000000000006,60.650000000000006 0 0 0 429.99,523.23 Z" fill="#161616"/>
<path d="M434.21,521.49 A65.14999999999999,65.14999999999999 0 0 1 434.60,522.15 L430.74,524.46 A60.650000000000006,60.650000000000006 0 0 0 430.37,523.85 Z" fill="#d4d4d4"/>
<path d="M434.60,522.15 A65.14999999999999,65.14999999999999 0 0 1 434.76,522.40 L430.89,524.70 A60.650000000000006,60.650000000000006 0 0 0 430.74,524.46 Z" fill="#8c8c8c"/>
<path d="M434.95,522.73 A65.14999999999999,65.14999999999999 0 0 1 435.27,523.29 L431.36,525.52 A60.650000000000006,60.650000000000006 0 0 0 431.07,525.00 Z" fill="#d4d4d4"/>
<path d="M435.27,523.29 A65.14999999999999,65.14999999999999 0 0 1 435.52,523.73 L431.60,525.93 A60.650000000000006,60.650000000000006 0 0 0 431.36,525.52 Z" fill="#161616"/>
<path d="M435.82,524.27 A65.14999999999999,65.14999999999999 0 0 1 436.02,524.64 L432.06,526.78 A60.650000000000006,60.650000000000006 0 0 0 431.88,526.43 Z" fill="#161616"/>
<path d="M436.50,525.54 A65.14999999999999,65.14999999999999 0 0 1 436.76,526.05 L432.75,528.09 A60.650000000000006,60.650000000000006 0 0 0 432.51,527.62 Z" fill="#161616"/>
<path d="M436.94,526.39 A65.14999999999999,65.14999999999999 0 0 1 437.28,527.09 L433.24,529.06 A60.650000000000006,60.650000000000006 0 0 0 432.91,528.41 Z" fill="#161616"/>
<path d="M437.99,528.60 A65.14999999999999,65.14999999999999 0 0 1 438.17,528.99 L434.06,530.83 A60.650000000000006,60.650000000000006 0 0 0 433.90,530.46 Z" fill="#d4d4d4"/>
<path d="M438.92,530.74 A65.14999999999999,65.14999999999999 0 0 1 439.22,531.48 L435.04,533.15 A60.650000000000006,60.650000000000006 0 0 0 434.76,532.45 Z" fill="#161616"/>
<path d="M439.51,532.22 A65.14999999999999,65.14999999999999 0 0 1 439.68,532.67 L435.47,534.25 A60.650000000000006,60.650000000000006 0 0 0 435.31,533.84 Z" fill="#d4d4d4"/>
<path d="M440.02,533.60 A65.14999999999999,65.14999999999999 0 0 1 440.14,533.94 L435.90,535.43 A60.650000000000006,60.650000000000006 0 0 0 435.79,535.12 Z" fill="#d4d4d4"/>
<path d="M440.47,534.89 A65.14999999999999,65.14999999999999 0 0 1 440.62,535.35 L436.35,536.75 A60.650000000000006,60.650000000000006 0 0 0 436.20,536.32 Z" fill="#d4d4d4"/>
<path d="M440.84,536.02 A65.14999999999999,65.14999999999999 0 0 1 441.05,536.70 L436.74,538.01 A60.650000000000006,60.650000000000006 0 0 0 436.55,537.37 Z" fill="#d4d4d4"/>
<path d="M441.20,537.20 A65.14999999999999,65.14999999999999 0 0 1 441.35,537.73 L437.02,538.97 A60.650000000000006,60.650000000000006 0 0 0 436.88,538.47 Z" fill="#8c8c8c"/>
<path d="M441.63,538.74 A65.14999999999999,65.14999999999999 0 0 1 441.73,539.13 L437.38,540.27 A60.650000000000006,60.650000000000006 0 0 0 437.28,539.91 Z" fill="#8c8c8c"/>
<path d="M437.23,526.98 A65.14999999999999,65.14999999999999 0 0 1 437.63,527.83 L433.56,529.75 A60.650000000000006,60.650000000000006 0 0 0 433.19,528.96 Z" fill="#f0b8c0"/>
<path d="M437.36,527.25 A65.14999999999999,65.14999999999999 0 0 1 437.51,527.56 L433.45,529.50 A60.650000000000006,60.650000000000006 0 0 0 433.31,529.21 Z" fill="#e48a96"/>
<path d="M432.07,518.23 A65.14999999999999,65.14999999999999 0 0 1 441.73,539.13 L437.38,540.27 A60.650000000000006,60.650000000000006 0 0 0 428.38,520.81 Z" fill="none" stroke="#151515" stroke-width="0.9"/>
<text transform="translate(444.78,525.04) rotate(65.18)" font-size="8.0" text-anchor="middle" fill="#2a2a2a" stroke="#2a2a2a" stroke-width="0.1" dominant-baseline="central">3</text>
<path d="M442.40,541.92 A65.14999999999999,65.14999999999999 0 0 1 442.50,542.43 L438.10,543.34 A60.650000000000006,60.650000000000006 0 0 0 438.00,542.87 Z" fill="#161616"/>
<path d="M442.66,543.20 A65.14999999999999,65.14999999999999 0 0 1 442.80,543.95 L438.37,544.76 A60.650000000000006,60.650000000000006 0 0 0 438.24,544.06 Z" fill="#161616"/>
<path d="M442.88,544.37 A65.14999999999999,65.14999999999999 0 0 1 442.94,544.73 L438.50,545.48 A60.650000000000006,60.650000000000006 0 0 0 438.44,545.15 Z" fill="#161616"/>
<path d="M443.04,545.36 A65.14999999999999,65.14999999999999 0 0 1 443.15,546.06 L438.70,546.72 A60.650000000000006,60.650000000000006 0 0 0 438.60,546.07 Z" fill="#8c8c8c"/>
<path d="M443.15,546.06 A65.14999999999999,65.14999999999999 0 0 1 443.24,546.73 L438.79,547.34 A60.650000000000006,60.650000000000006 0 0 0 438.70,546.72 Z" fill="#d4d4d4"/>
<path d="M443.53,549.15 A65.14999999999999,65.14999999999999 0 0 1 443.56,549.45 L439.08,549.88 A60.650000000000006,60.650000000000006 0 0 0 439.05,549.60 Z" fill="#161616"/>
<path d="M443.59,549.81 A65.14999999999999,65.14999999999999 0 0 1 443.65,550.45 L439.16,550.81 A60.650000000000006,60.650000000000006 0 0 0 439.11,550.21 Z" fill="#161616"/>
<path d="M443.65,550.45 A65.14999999999999,65.14999999999999 0 0 1 443.70,551.24 L439.21,551.54 A60.650000000000006,60.650000000000006 0 0 0 439.16,550.81 Z" fill="#d4d4d4"/>
<path d="M443.81,553.32 A65.14999999999999,65.14999999999999 0 0 1 443.83,554.00 L439.33,554.11 A60.650000000000006,60.650000000000006 0 0 0 439.31,553.48 Z" fill="#161616"/>
<path d="M443.84,554.33 A65.14999999999999,65.14999999999999 0 0 1 443.85,554.92 L439.35,554.96 A60.650000000000006,60.650000000000006 0 0 0 439.34,554.42 Z" fill="#161616"/>
<path d="M443.85,555.34 A65.14999999999999,65.14999999999999 0 0 1 443.85,555.76 L439.35,555.75 A60.650000000000006,60.650000000000006 0 0 0 439.35,555.35 Z" fill="#d4d4d4"/>
<path d="M443.75,559.24 A65.14999999999999,65.14999999999999 0 0 1 443.71,559.89 L439.22,559.59 A60.650000000000006,60.650000000000006 0 0 0 439.26,558.98 Z" fill="#8c8c8c"/>
<path d="M443.66,560.53 A65.14999999999999,65.14999999999999 0 0 1 443.62,561.08 L439.14,560.70 A60.650000000000006,60.650000000000006 0 0 0 439.18,560.19 Z" fill="#d4d4d4"/>
<path d="M443.55,561.84 A65.14999999999999,65.14999999999999 0 0 1 443.52,562.18 L439.04,561.73 A60.650000000000006,60.650000000000006 0 0 0 439.07,561.41 Z" fill="#8c8c8c"/>
<path d="M443.43,562.95 A65.14999999999999,65.14999999999999 0 0 1 443.37,563.47 L438.91,562.93 A60.650000000000006,60.650000000000006 0 0 0 438.96,562.44 Z" fill="#8c8c8c"/>
<path d="M443.25,546.77 A65.14999999999999,65.14999999999999 0 0 1 443.37,547.70 L438.90,548.24 A60.650000000000006,60.650000000000006 0 0 0 438.79,547.38 Z" fill="#f0b8c0"/>
<path d="M443.29,547.06 A65.14999999999999,65.14999999999999 0 0 1 443.33,547.41 L438.87,547.97 A60.650000000000006,60.650000000000006 0 0 0 438.83,547.65 Z" fill="#e48a96"/>
<path d="M442.29,541.43 A65.14999999999999,65.14999999999999 0 0 1 443.35,563.64 L438.89,563.09 A60.650000000000006,60.650000000000006 0 0 0 437.90,542.41 Z" fill="none" stroke="#151515" stroke-width="0.9"/>
<text transform="translate(451.42,552.13) rotate(87.26)" font-size="8.0" text-anchor="middle" fill="#2a2a2a" stroke="#2a2a2a" stroke-width="0.1" dominant-baseline="central">4</text>
<path d="M442.92,566.54 A65.14999999999999,65.14999999999999 0 0 1 442.86,566.93 L438.43,566.15 A60.650000000000006,60.650000000000006 0 0 0 438.49,565.79 Z" fill="#d4d4d4"/>
<path d="M442.78,567.38 A65.14999999999999,65.14999999999999 0 0 1 442.65,568.03 L438.24,567.17 A60.650000000000006,60.650000000000006 0 0 0 438.35,566.57 Z" fill="#161616"/>
<path d="M442.65,568.03 A65.14999999999999,65.14999999999999 0 0 1 442.57,568.47 L438.16,567.58 A60.650000000000006,60.650000000000006 0 0 0 438.24,567.17 Z" fill="#8c8c8c"/>
<path d="M442.57,568.47 A65.14999999999999,65.14999999999999 0 0 1 442.46,568.97 L438.06,568.04 A60.650000000000006,60.650000000000006 0 0 0 438.16,567.58 Z" fill="#161616"/>
<path d="M441.56,572.71 A65.14999999999999,65.14999999999999 0 0 1 441.37,573.40 L437.04,572.17 A60.650000000000006,60.650000000000006 0 0 0 437.22,571.52 Z" fill="#d4d4d4"/>
<path d="M441.37,573.40 A65.14999999999999,65.14999999999999 0 0 1 441.22,573.93 L436.90,572.66 A60.650000000000006,60.650000000000006 0 0 0 437.04,572.17 Z" fill="#8c8c8c"/>
<path d="M441.01,574.64 A65.14999999999999,65.14999999999999 0 0 1 440.80,575.29 L436.51,573.93 A60.650000000000006,60.650000000000006 0 0 0 436.70,573.32 Z" fill="#161616"/>
<path d="M440.64,575.80 A65.14999999999999,65.14999999999999 0 0 1 440.51,576.19 L436.24,574.77 A60.650000000000006,60.650000000000006 0 0 0 436.36,574.40 Z" fill="#8c8c8c"/>
<path d="M440.51,576.19 A65.14999999999999,65.14999999999999 0 0 1 440.30,576.81 L436.05,575.34 A60.650000000000006,60.650000000000006 0 0 0 436.24,574.77 Z" fill="#161616"/>
<path d="M439.92,577.88 A65.14999999999999,65.14999999999999 0 0 1 439.79,578.24 L435.57,576.68 A60.650000000000006,60.650000000000006 0 0 0 435.69,576.34 Z" fill="#8c8c8c"/>
<path d="M439.79,578.24 A65.14999999999999,65.14999999999999 0 0 1 439.53,578.94 L435.32,577.33 A60.650000000000006,60.650000000000006 0 0 0 435.57,576.68 Z" fill="#161616"/>
<path d="M438.95,580.39 A65.14999999999999,65.14999999999999 0 0 1 438.82,580.70 L434.67,578.97 A60.650000000000006,60.650000000000006 0 0 0 434.79,578.68 Z" fill="#161616"/>
<path d="M438.65,581.11 A65.14999999999999,65.14999999999999 0 0 1 438.41,581.66 L434.29,579.86 A60.650000000000006,60.650000000000006 0 0 0 434.51,579.35 Z" fill="#8c8c8c"/>
<path d="M438.08,582.41 A65.14999999999999,65.14999999999999 0 0 1 437.91,582.78 L433.82,580.90 A60.650000000000006,60.650000000000006 0 0 0 433.98,580.56 Z" fill="#d4d4d4"/>
<path d="M437.32,584.02 A65.14999999999999,65.14999999999999 0 0 1 437.13,584.41 L433.10,582.42 A60.650000000000006,60.650000000000006 0 0 0 433.28,582.06 Z" fill="#8c8c8c"/>
<path d="M437.13,584.41 A65.14999999999999,65.14999999999999 0 0 1 436.98,584.73 L432.95,582.71 A60.650000000000006,60.650000000000006 0 0 0 433.10,582.42 Z" fill="#161616"/>
<path d="M441.99,571.07 A65.14999999999999,65.14999999999999 0 0 1 441.76,571.98 L437.40,570.85 A60.650000000000006,60.650000000000006 0 0 0 437.62,570.00 Z" fill="#f0b8c0"/>
<path d="M441.92,571.35 A65.14999999999999,65.14999999999999 0 0 1 441.83,571.69 L437.47,570.58 A60.650000000000006,60.650000000000006 0 0 0 437.55,570.27 Z" fill="#e48a96"/>
<path d="M443.02,565.98 A65.14999999999999,65.14999999999999 0 0 1 436.35,585.96 L432.36,583.86 A60.650000000000006,60.650000000000006 0 0 0 438.57,565.27 Z" fill="none" stroke="#151515" stroke-width="0.9"/>
<text transform="translate(447.75,578.66) rotate(-71.53)" font-size="8.0" text-anchor="middle" fill="#2a2a2a" stroke="#2a2a2a" stroke-width="0.1" dominant-baseline="central">5</text>
<path d="M435.12,588.18 A65.14999999999999,65.14999999999999 0 0 1 434.77,588.78 L430.89,586.49 A60.650000000000006,60.650000000000006 0 0 0 431.22,585.93 Z" fill="#8c8c8c"/>
<path d="M434.54,589.17 A65.14999999999999,65.14999999999999 0 0 1 434.21,589.71 L430.37,587.35 A60.650000000000006,60.650000000000006 0 0 0 430.68,586.85 Z" fill="#161616"/>
<path d="M434.21,589.71 A65.14999999999999,65.14999999999999 0 0 1 433.98,590.08 L430.16,587.70 A60.650000000000006,60.650000000000006 0 0 0 430.37,587.35 Z" fill="#8c8c8c"/>
<path d="M432.94,591.70 A65.14999999999999,65.14999999999999 0 0 1 432.56,592.25 L428.84,589.72 A60.650000000000006,60.650000000000006 0 0 0 429.19,589.20 Z" fill="#8c8c8c"/>
<path d="M432.23,592.74 A65.14999999999999,65.14999999999999 0 0 1 431.87,593.26 L428.19,590.65 A60.650000000000006,60.650000000000006 0 0 0 428.53,590.17 Z" fill="#d4d4d4"/>
<path d="M431.87,593.26 A65.14999999999999,65.14999999999999 0 0 1 431.64,593.57 L427.98,590.95 A60.650000000000006,60.650000000000006 0 0 0 428.19,590.65 Z" fill="#161616"/>
<path d="M430.80,594.71 A65.14999999999999,65.14999999999999 0 0 1 430.52,595.09 L426.94,592.36 A60.650000000000006,60.650000000000006 0 0 0 427.20,592.01 Z" fill="#8c8c8c"/>
<path d="M430.52,595.09 A65.14999999999999,65.14999999999999 0 0 1 430.15,595.57 L426.60,592.81 A60.650000000000006,60.650000000000006 0 0 0 426.94,592.36 Z" fill="#d4d4d4"/>
<path d="M429.47,596.42 A65.14999999999999,65.14999999999999 0 0 1 429.27,596.68 L425.78,593.84 A60.650000000000006,60.650000000000006 0 0 0 425.97,593.60 Z" fill="#8c8c8c"/>
<path d="M429.27,596.68 A65.14999999999999,65.14999999999999 0 0 1 428.83,597.21 L425.37,594.34 A60.650000000000006,60.650000000000006 0 0 0 425.78,593.84 Z" fill="#d4d4d4"/>
<path d="M426.47,599.91 A65.14999999999999,65.14999999999999 0 0 1 426.07,600.33 L422.80,597.24 A60.650000000000006,60.650000000000006 0 0 0 423.17,596.85 Z" fill="#161616"/>
<path d="M425.26,601.17 A65.14999999999999,65.14999999999999 0 0 1 424.76,601.67 L421.58,598.49 A60.650000000000006,60.650000000000006 0 0 0 422.04,598.03 Z" fill="#8c8c8c"/>
<path d="M424.49,601.95 A65.14999999999999,65.14999999999999 0 0 1 424.12,602.31 L420.98,599.08 A60.650000000000006,60.650000000000006 0 0 0 421.32,598.75 Z" fill="#8c8c8c"/>
<path d="M431.60,593.63 A65.14999999999999,65.14999999999999 0 0 1 431.05,594.38 L427.43,591.70 A60.650000000000006,60.650000000000006 0 0 0 427.95,591.00 Z" fill="#f0b8c0"/>
<path d="M431.43,593.86 A65.14999999999999,65.14999999999999 0 0 1 431.22,594.15 L427.59,591.49 A60.650000000000006,60.650000000000006 0 0 0 427.79,591.22 Z" fill="#e48a96"/>
<path d="M435.21,588.03 A65.14999999999999,65.14999999999999 0 0 1 422.76,603.59 L419.72,600.27 A60.650000000000006,60.650000000000006 0 0 0 431.30,585.79 Z" fill="none" stroke="#151515" stroke-width="0.9"/>
<text transform="translate(435.56,601.06) rotate(-51.35)" font-size="8.0" text-anchor="middle" fill="#2a2a2a" stroke="#2a2a2a" stroke-width="0.1" dominant-baseline="central">6</text>
<path d="M420.86,605.27 A65.14999999999999,65.14999999999999 0 0 1 420.42,605.64 L417.54,602.18 A60.650000000000006,60.650000000000006 0 0 0 417.95,601.84 Z" fill="#d4d4d4"/>
<path d="M419.57,606.34 A65.14999999999999,65.14999999999999 0 0 1 419.01,606.78 L416.23,603.25 A60.650000000000006,60.650000000000006 0 0 0 416.75,602.83 Z" fill="#161616"/>
<path d="M418.39,607.27 A65.14999999999999,65.14999999999999 0 0 1 417.92,607.62 L415.21,604.03 A60.650000000000006,60.650000000000006 0 0 0 415.65,603.70 Z" fill="#d4d4d4"/>
<path d="M417.92,607.62 A65.14999999999999,65.14999999999999 0 0 1 417.42,607.99 L414.75,604.38 A60.650000000000006,60.650000000000006 0 0 0 415.21,604.03 Z" fill="#161616"/>
<path d="M416.29,608.81 A65.14999999999999,65.14999999999999 0 0 1 415.79,609.16 L413.23,605.46 A60.650000000000006,60.650000000000006 0 0 0 413.69,605.14 Z" fill="#8c8c8c"/>
<path d="M414.54,610.00 A65.14999999999999,65.14999999999999 0 0 1 414.22,610.22 L411.76,606.45 A60.650000000000006,60.650000000000006 0 0 0 412.07,606.25 Z" fill="#d4d4d4"/>
<path d="M413.42,610.73 A65.14999999999999,65.14999999999999 0 0 1 412.92,611.04 L410.56,607.21 A60.650000000000006,60.650000000000006 0 0 0 411.02,606.92 Z" fill="#161616"/>
<path d="M412.27,611.44 A65.14999999999999,65.14999999999999 0 0 1 411.66,611.80 L409.38,607.92 A60.650000000000006,60.650000000000006 0 0 0 409.95,607.58 Z" fill="#d4d4d4"/>
<path d="M411.02,612.17 A65.14999999999999,65.14999999999999 0 0 1 410.52,612.45 L408.33,608.52 A60.650000000000006,60.650000000000006 0 0 0 408.79,608.26 Z" fill="#161616"/>
<path d="M409.54,612.99 A65.14999999999999,65.14999999999999 0 0 1 408.88,613.34 L406.80,609.35 A60.650000000000006,60.650000000000006 0 0 0 407.41,609.02 Z" fill="#d4d4d4"/>
<path d="M408.88,613.34 A65.14999999999999,65.14999999999999 0 0 1 408.19,613.69 L406.15,609.68 A60.650000000000006,60.650000000000006 0 0 0 406.80,609.35 Z" fill="#8c8c8c"/>
<path d="M407.58,614.00 A65.14999999999999,65.14999999999999 0 0 1 406.94,614.31 L404.99,610.26 A60.650000000000006,60.650000000000006 0 0 0 405.59,609.96 Z" fill="#161616"/>
<path d="M415.82,609.14 A65.14999999999999,65.14999999999999 0 0 1 415.04,609.67 L412.53,605.94 A60.650000000000006,60.650000000000006 0 0 0 413.25,605.44 Z" fill="#f0b8c0"/>
<path d="M415.58,609.31 A65.14999999999999,65.14999999999999 0 0 1 415.29,609.51 L412.76,605.78 A60.650000000000006,60.650000000000006 0 0 0 413.03,605.60 Z" fill="#e48a96"/>
<path d="M420.99,605.16 A65.14999999999999,65.14999999999999 0 0 1 405.32,615.06 L403.48,610.95 A60.650000000000006,60.650000000000006 0 0 0 418.07,601.73 Z" fill="none" stroke="#151515" stroke-width="0.9"/>
<text transform="translate(417.60,617.14) rotate(-32.30)" font-size="8.0" text-anchor="middle" fill="#2a2a2a" stroke="#2a2a2a" stroke-width="0.1" dominant-baseline="central">7</text>
<path d="M402.33,616.32 A65.14999999999999,65.14999999999999 0 0 1 401.71,616.55 L400.12,612.34 A60.650000000000006,60.650000000000006 0 0 0 400.69,612.12 Z" fill="#d4d4d4"/>
<path d="M400.15,617.12 A65.14999999999999,65.14999999999999 0 0 1 399.78,617.24 L398.33,612.99 A60.650000000000006,60.650000000000006 0 0 0 398.67,612.87 Z" fill="#161616"/>
<path d="M399.15,617.46 A65.14999999999999,65.14999999999999 0 0 1 398.69,617.61 L397.31,613.33 A60.650000000000006,60.650000000000006 0 0 0 397.74,613.19 Z" fill="#d4d4d4"/>
<path d="M393.14,619.13 A65.14999999999999,65.14999999999999 0 0 1 392.84,619.20 L391.87,614.80 A60.650000000000006,60.650000000000006 0 0 0 392.14,614.74 Z" fill="#161616"/>
<path d="M388.40,620.02 A65.14999999999999,65.14999999999999 0 0 1 387.69,620.13 L387.07,615.67 A60.650000000000006,60.650000000000006 0 0 0 387.73,615.57 Z" fill="#d4d4d4"/>
<path d="M387.22,620.19 A65.14999999999999,65.14999999999999 0 0 1 386.63,620.27 L386.08,615.80 A60.650000000000006,60.650000000000006 0 0 0 386.63,615.73 Z" fill="#161616"/>
<path d="M398.58,617.64 A65.14999999999999,65.14999999999999 0 0 1 397.68,617.92 L396.37,613.62 A60.650000000000006,60.650000000000006 0 0 0 397.20,613.36 Z" fill="#f0b8c0"/>
<path d="M398.30,617.73 A65.14999999999999,65.14999999999999 0 0 1 397.96,617.84 L396.63,613.54 A60.650000000000006,60.650000000000006 0 0 0 396.94,613.44 Z" fill="#e48a96"/>
<path d="M403.15,615.99 A65.14999999999999,65.14999999999999 0 0 1 386.63,620.27 L386.08,615.80 A60.650000000000006,60.650000000000006 0 0 0 401.46,611.82 Z" fill="none" stroke="#151515" stroke-width="0.9"/>
<text transform="translate(396.95,626.08) rotate(-14.51)" font-size="8.0" text-anchor="middle" fill="#2a2a2a" stroke="#2a2a2a" stroke-width="0.1" dominant-baseline="central">8</text>
<path d="M382.81,620.62 A65.14999999999999,65.14999999999999 0 0 1 382.49,620.64 L382.23,616.15 A60.650000000000006,60.650000000000006 0 0 0 382.53,616.13 Z" fill="#d4d4d4"/>
<path d="M380.92,620.71 A65.14999999999999,65.14999999999999 0 0 1 380.21,620.73 L380.10,616.23 A60.650000000000006,60.650000000000006 0 0 0 380.77,616.21 Z" fill="#161616"/>
<path d="M379.42,620.75 A65.14999999999999,65.14999999999999 0 0 1 378.97,620.75 L378.95,616.25 A60.650000000000006,60.650000000000006 0 0 0 379.37,616.25 Z" fill="#d4d4d4"/>
<path d="M377.38,620.74 A65.14999999999999,65.14999999999999 0 0 1 376.91,620.73 L377.03,616.23 A60.650000000000006,60.650000000000006 0 0 0 377.47,616.24 Z" fill="#8c8c8c"/>
<path d="M376.13,620.70 A65.14999999999999,65.14999999999999 0 0 1 375.45,620.67 L375.67,616.17 A60.650000000000006,60.650000000000006 0 0 0 376.31,616.20 Z" fill="#8c8c8c"/>
<path d="M375.45,620.67 A65.14999999999999,65.14999999999999 0 0 1 374.72,620.63 L374.99,616.14 A60.650000000000006,60.650000000000006 0 0 0 375.67,616.17 Z" fill="#d4d4d4"/>
<path d="M372.30,620.43 A65.14999999999999,65.14999999999999 0 0 1 371.63,620.37 L372.12,615.89 A60.650000000000006,60.650000000000006 0 0 0 372.74,615.96 Z" fill="#d4d4d4"/>
<path d="M369.77,620.13 A65.14999999999999,65.14999999999999 0 0 1 369.23,620.06 L369.89,615.61 A60.650000000000006,60.650000000000006 0 0 0 370.38,615.68 Z" fill="#8c8c8c"/>
<path d="M368.59,619.96 A65.14999999999999,65.14999999999999 0 0 1 368.18,619.90 L368.91,615.45 A60.650000000000006,60.650000000000006 0 0 0 369.29,615.52 Z" fill="#161616"/>
<path d="M379.02,620.75 A65.14999999999999,65.14999999999999 0 0 1 378.09,620.75 L378.13,616.25 A60.650000000000006,60.650000000000006 0 0 0 379.00,616.25 Z" fill="#f0b8c0"/>
<path d="M378.73,620.75 A65.14999999999999,65.14999999999999 0 0 1 378.38,620.75 L378.40,616.25 A60.650000000000006,60.650000000000006 0 0 0 378.73,616.25 Z" fill="#e48a96"/>
<path d="M378.55,620.75 A65.14999999999999,65.14999999999999 0 0 1 376.57,620.72 L376.71,616.22 A60.650000000000006,60.650000000000006 0 0 0 378.56,616.25 Z" fill="#f2c4ca"/>
<path d="M384.27,620.51 A65.14999999999999,65.14999999999999 0 0 1 367.82,619.84 L368.58,615.40 A60.650000000000006,60.650000000000006 0 0 0 383.89,616.03 Z" fill="none" stroke="#151515" stroke-width="0.9"/>
<text transform="translate(375.71,628.34) rotate(2.35)" font-size="8.0" text-anchor="middle" fill="#2a2a2a" stroke="#2a2a2a" stroke-width="0.1" dominant-baseline="central">9</text>
<path d="M364.59,619.20 A65.14999999999999,65.14999999999999 0 0 1 363.85,619.03 L364.88,614.65 A60.650000000000006,60.650000000000006 0 0 0 365.57,614.81 Z" fill="#8c8c8c"/>
<path d="M361.73,618.50 A65.14999999999999,65.14999999999999 0 0 1 361.41,618.41 L362.60,614.07 A60.650000000000006,60.650000000000006 0 0 0 362.90,614.16 Z" fill="#d4d4d4"/>
<path d="M360.07,618.03 A65.14999999999999,65.14999999999999 0 0 1 359.67,617.91 L360.99,613.61 A60.650000000000006,60.650000000000006 0 0 0 361.36,613.72 Z" fill="#161616"/>
<path d="M359.67,617.91 A65.14999999999999,65.14999999999999 0 0 1 359.28,617.79 L360.63,613.49 A60.650000000000006,60.650000000000006 0 0 0 360.99,613.61 Z" fill="#d4d4d4"/>
<path d="M359.28,617.79 A65.14999999999999,65.14999999999999 0 0 1 358.80,617.64 L360.17,613.35 A60.650000000000006,60.650000000000006 0 0 0 360.63,613.49 Z" fill="#161616"/>
<path d="M356.62,616.90 A65.14999999999999,65.14999999999999 0 0 1 356.34,616.79 L357.88,612.56 A60.650000000000006,60.650000000000006 0 0 0 358.15,612.66 Z" fill="#161616"/>
<path d="M355.65,616.54 A65.14999999999999,65.14999999999999 0 0 1 355.26,616.39 L356.88,612.19 A60.650000000000006,60.650000000000006 0 0 0 357.24,612.33 Z" fill="#161616"/>
<path d="M355.26,616.39 A65.14999999999999,65.14999999999999 0 0 1 354.69,616.16 L356.35,611.98 A60.650000000000006,60.650000000000006 0 0 0 356.88,612.19 Z" fill="#d4d4d4"/>
<path d="M354.69,616.16 A65.14999999999999,65.14999999999999 0 0 1 354.05,615.91 L355.75,611.74 A60.650000000000006,60.650000000000006 0 0 0 356.35,611.98 Z" fill="#161616"/>
<path d="M354.05,615.91 A65.14999999999999,65.14999999999999 0 0 1 353.61,615.72 L355.34,611.57 A60.650000000000006,60.650000000000006 0 0 0 355.75,611.74 Z" fill="#d4d4d4"/>
<path d="M353.12,615.52 A65.14999999999999,65.14999999999999 0 0 1 352.45,615.23 L354.27,611.11 A60.650000000000006,60.650000000000006 0 0 0 354.89,611.38 Z" fill="#d4d4d4"/>
<path d="M361.39,618.41 A65.14999999999999,65.14999999999999 0 0 1 360.49,618.15 L361.75,613.83 A60.650000000000006,60.650000000000006 0 0 0 362.58,614.07 Z" fill="#f0b8c0"/>
<path d="M361.11,618.33 A65.14999999999999,65.14999999999999 0 0 1 360.77,618.23 L362.01,613.91 A60.650000000000006,60.650000000000006 0 0 0 362.32,614.00 Z" fill="#e48a96"/>
<path d="M365.50,619.40 A65.14999999999999,65.14999999999999 0 0 1 350.53,614.34 L352.47,610.29 A60.650000000000006,60.650000000000006 0 0 0 366.41,614.99 Z" fill="none" stroke="#151515" stroke-width="0.9"/>
<text transform="translate(355.41,624.58) rotate(18.65)" font-size="8.0" text-anchor="middle" fill="#2a2a2a" stroke="#2a2a2a" stroke-width="0.1" dominant-baseline="central">10</text>
<path d="M347.84,612.98 A65.14999999999999,65.14999999999999 0 0 1 347.55,612.82 L349.70,608.87 A60.650000000000006,60.650000000000006 0 0 0 349.97,609.02 Z" fill="#d4d4d4"/>
<path d="M346.96,612.49 A65.14999999999999,65.14999999999999 0 0 1 346.40,612.18 L348.64,608.27 A60.650000000000006,60.650000000000006 0 0 0 349.15,608.56 Z" fill="#d4d4d4"/>
<path d="M344.56,611.09 A65.14999999999999,65.14999999999999 0 0 1 343.89,610.67 L346.30,606.87 A60.650000000000006,60.650000000000006 0 0 0 346.92,607.25 Z" fill="#8c8c8c"/>
<path d="M343.89,610.67 A65.14999999999999,65.14999999999999 0 0 1 343.26,610.27 L345.71,606.49 A60.650000000000006,60.650000000000006 0 0 0 346.30,606.87 Z" fill="#161616"/>
<path d="M342.27,609.61 A65.14999999999999,65.14999999999999 0 0 1 341.62,609.17 L344.18,605.47 A60.650000000000006,60.650000000000006 0 0 0 344.79,605.88 Z" fill="#161616"/>
<path d="M340.40,608.30 A65.14999999999999,65.14999999999999 0 0 1 339.74,607.82 L342.43,604.21 A60.650000000000006,60.650000000000006 0 0 0 343.05,604.66 Z" fill="#161616"/>
<path d="M338.54,606.90 A65.14999999999999,65.14999999999999 0 0 1 338.10,606.55 L340.91,603.03 A60.650000000000006,60.650000000000006 0 0 0 341.32,603.36 Z" fill="#d4d4d4"/>
<path d="M338.10,606.55 A65.14999999999999,65.14999999999999 0 0 1 337.86,606.36 L340.68,602.85 A60.650000000000006,60.650000000000006 0 0 0 340.91,603.03 Z" fill="#8c8c8c"/>
<path d="M337.52,606.08 A65.14999999999999,65.14999999999999 0 0 1 337.15,605.78 L340.02,602.32 A60.650000000000006,60.650000000000006 0 0 0 340.36,602.59 Z" fill="#8c8c8c"/>
<path d="M335.98,604.78 A65.14999999999999,65.14999999999999 0 0 1 335.69,604.54 L338.67,601.16 A60.650000000000006,60.650000000000006 0 0 0 338.93,601.39 Z" fill="#161616"/>
<path d="M343.40,610.36 A65.14999999999999,65.14999999999999 0 0 1 342.62,609.84 L345.11,606.10 A60.650000000000006,60.650000000000006 0 0 0 345.84,606.57 Z" fill="#f0b8c0"/>
<path d="M343.15,610.20 A65.14999999999999,65.14999999999999 0 0 1 342.86,610.01 L345.33,606.25 A60.650000000000006,60.650000000000006 0 0 0 345.61,606.43 Z" fill="#e48a96"/>
<path d="M348.42,613.28 A65.14999999999999,65.14999999999999 0 0 1 335.46,604.33 L338.45,600.97 A60.650000000000006,60.650000000000006 0 0 0 350.51,609.30 Z" fill="none" stroke="#151515" stroke-width="0.9"/>
<text transform="translate(337.32,615.50) rotate(34.64)" font-size="8.0" text-anchor="middle" fill="#2a2a2a" stroke="#2a2a2a" stroke-width="0.1" dominant-baseline="central">11</text>
<path d="M333.59,602.61 A65.14999999999999,65.14999999999999 0 0 1 333.02,602.05 L336.17,598.84 A60.650000000000006,60.650000000000006 0 0 0 336.71,599.36 Z" fill="#161616"/>
<path d="M332.35,601.38 A65.14999999999999,65.14999999999999 0 0 1 331.95,600.97 L335.18,597.84 A60.650000000000006,60.650000000000006 0 0 0 335.55,598.22 Z" fill="#d4d4d4"/>
<path d="M331.95,600.97 A65.14999999999999,65.14999999999999 0 0 1 331.61,600.63 L334.87,597.52 A60.650000000000006,60.650000000000006 0 0 0 335.18,597.84 Z" fill="#161616"/>
<path d="M331.31,600.31 A65.14999999999999,65.14999999999999 0 0 1 330.79,599.75 L334.10,596.70 A60.650000000000006,60.650000000000006 0 0 0 334.58,597.22 Z" fill="#161616"/>
<path d="M330.01,598.89 A65.14999999999999,65.14999999999999 0 0 1 329.77,598.62 L333.15,595.65 A60.650000000000006,60.650000000000006 0 0 0 333.37,595.90 Z" fill="#d4d4d4"/>
<path d="M328.74,597.41 A65.14999999999999,65.14999999999999 0 0 1 328.22,596.79 L331.71,593.94 A60.650000000000006,60.650000000000006 0 0 0 332.19,594.52 Z" fill="#161616"/>
<path d="M327.15,595.44 A65.14999999999999,65.14999999999999 0 0 1 326.96,595.19 L330.53,592.46 A60.650000000000006,60.650000000000006 0 0 0 330.71,592.69 Z" fill="#d4d4d4"/>
<path d="M326.75,594.92 A65.14999999999999,65.14999999999999 0 0 1 326.50,594.58 L330.10,591.89 A60.650000000000006,60.650000000000006 0 0 0 330.34,592.20 Z" fill="#161616"/>
<path d="M326.01,593.91 A65.14999999999999,65.14999999999999 0 0 1 325.64,593.41 L329.31,590.80 A60.650000000000006,60.650000000000006 0 0 0 329.65,591.27 Z" fill="#8c8c8c"/>
<path d="M325.64,593.41 A65.14999999999999,65.14999999999999 0 0 1 325.20,592.78 L328.89,590.21 A60.650000000000006,60.650000000000006 0 0 0 329.31,590.80 Z" fill="#161616"/>
<path d="M324.96,592.43 A65.14999999999999,65.14999999999999 0 0 1 324.57,591.86 L328.31,589.35 A60.650000000000006,60.650000000000006 0 0 0 328.67,589.89 Z" fill="#161616"/>
<path d="M331.11,600.09 A65.14999999999999,65.14999999999999 0 0 1 330.47,599.40 L333.80,596.38 A60.650000000000006,60.650000000000006 0 0 0 334.39,597.02 Z" fill="#f0b8c0"/>
<path d="M330.91,599.88 A65.14999999999999,65.14999999999999 0 0 1 330.67,599.62 L333.99,596.58 A60.650000000000006,60.650000000000006 0 0 0 334.21,596.82 Z" fill="#e48a96"/>
<path d="M333.72,602.73 A65.14999999999999,65.14999999999999 0 0 1 323.80,590.68 L327.59,588.26 A60.650000000000006,60.650000000000006 0 0 0 336.83,599.48 Z" fill="none" stroke="#151515" stroke-width="0.9"/>
<text transform="translate(322.49,601.87) rotate(50.54)" font-size="8.0" text-anchor="middle" fill="#2a2a2a" stroke="#2a2a2a" stroke-width="0.1" dominant-baseline="central">12</text>
<path d="M322.47,588.51 A65.14999999999999,65.14999999999999 0 0 1 322.16,587.97 L326.06,585.73 A60.650000000000006,60.650000000000006 0 0 0 326.36,586.24 Z" fill="#161616"/>
<path d="M320.72,585.31 A65.14999999999999,65.14999999999999 0 0 1 320.42,584.73 L324.45,582.71 A60.650000000000006,60.650000000000006 0 0 0 324.72,583.26 Z" fill="#161616"/>
<path d="M319.32,582.41 A65.14999999999999,65.14999999999999 0 0 1 319.13,581.99 L323.25,580.17 A60.650000000000006,60.650000000000006 0 0 0 323.42,580.56 Z" fill="#d4d4d4"/>
<path d="M319.13,581.99 A65.14999999999999,65.14999999999999 0 0 1 318.93,581.52 L323.06,579.73 A60.650000000000006,60.650000000000006 0 0 0 323.25,580.17 Z" fill="#161616"/>
<path d="M318.41,580.29 A65.14999999999999,65.14999999999999 0 0 1 318.19,579.73 L322.37,578.07 A60.650000000000006,60.650000000000006 0 0 0 322.57,578.58 Z" fill="#d4d4d4"/>
<path d="M317.98,579.22 A65.14999999999999,65.14999999999999 0 0 1 317.75,578.60 L321.96,577.01 A60.650000000000006,60.650000000000006 0 0 0 322.18,577.59 Z" fill="#161616"/>
<path d="M317.75,578.60 A65.14999999999999,65.14999999999999 0 0 1 317.62,578.28 L321.84,576.71 A60.650000000000006,60.650000000000006 0 0 0 321.96,577.01 Z" fill="#8c8c8c"/>
<path d="M317.46,577.82 A65.14999999999999,65.14999999999999 0 0 1 317.20,577.10 L321.45,575.62 A60.650000000000006,60.650000000000006 0 0 0 321.69,576.29 Z" fill="#161616"/>
<path d="M321.76,587.25 A65.14999999999999,65.14999999999999 0 0 1 321.31,586.43 L325.27,584.30 A60.650000000000006,60.650000000000006 0 0 0 325.69,585.07 Z" fill="#f0b8c0"/>
<path d="M321.62,587.00 A65.14999999999999,65.14999999999999 0 0 1 321.45,586.69 L325.40,584.54 A60.650000000000006,60.650000000000006 0 0 0 325.56,584.83 Z" fill="#e48a96"/>
<path d="M322.53,588.61 A65.14999999999999,65.14999999999999 0 0 1 321.98,587.65 L325.90,585.44 A60.650000000000006,60.650000000000006 0 0 0 326.41,586.33 Z" fill="#f2c4ca"/>
<path d="M322.56,588.66 A65.14999999999999,65.14999999999999 0 0 1 316.97,576.44 L321.24,575.00 A60.650000000000006,60.650000000000006 0 0 0 326.44,586.38 Z" fill="none" stroke="#151515" stroke-width="0.9"/>
<text transform="translate(312.49,585.88) rotate(65.42)" font-size="8.0" text-anchor="middle" fill="#2a2a2a" stroke="#2a2a2a" stroke-width="0.1" dominant-baseline="central">13</text>
<path d="M315.99,573.27 A65.14999999999999,65.14999999999999 0 0 1 315.86,572.79 L320.20,571.61 A60.650000000000006,60.650000000000006 0 0 0 320.32,572.05 Z" fill="#161616"/>
<path d="M315.33,570.71 A65.14999999999999,65.14999999999999 0 0 1 315.23,570.30 L319.61,569.28 A60.650000000000006,60.650000000000006 0 0 0 319.70,569.67 Z" fill="#161616"/>
<path d="M315.07,569.58 A65.14999999999999,65.14999999999999 0 0 1 314.95,569.03 L319.35,568.10 A60.650000000000006,60.650000000000006 0 0 0 319.46,568.62 Z" fill="#8c8c8c"/>
<path d="M314.95,569.03 A65.14999999999999,65.14999999999999 0 0 1 314.80,568.31 L319.22,567.43 A60.650000000000006,60.650000000000006 0 0 0 319.35,568.10 Z" fill="#d4d4d4"/>
<path d="M314.66,567.60 A65.14999999999999,65.14999999999999 0 0 1 314.58,567.17 L319.01,566.37 A60.650000000000006,60.650000000000006 0 0 0 319.09,566.77 Z" fill="#161616"/>
<path d="M314.34,565.73 A65.14999999999999,65.14999999999999 0 0 1 314.28,565.32 L318.73,564.65 A60.650000000000006,60.650000000000006 0 0 0 318.79,565.03 Z" fill="#161616"/>
<path d="M314.23,564.96 A65.14999999999999,65.14999999999999 0 0 1 314.17,564.57 L318.63,563.95 A60.650000000000006,60.650000000000006 0 0 0 318.68,564.31 Z" fill="#161616"/>
<path d="M314.17,564.57 A65.14999999999999,65.14999999999999 0 0 1 314.09,563.93 L318.55,563.36 A60.650000000000006,60.650000000000006 0 0 0 318.63,563.95 Z" fill="#d4d4d4"/>
<path d="M313.96,562.88 A65.14999999999999,65.14999999999999 0 0 1 313.92,562.49 L318.39,562.02 A60.650000000000006,60.650000000000006 0 0 0 318.43,562.38 Z" fill="#161616"/>
<path d="M315.82,572.65 A65.14999999999999,65.14999999999999 0 0 1 315.58,571.75 L319.94,570.63 A60.650000000000006,60.650000000000006 0 0 0 320.16,571.48 Z" fill="#f0b8c0"/>
<path d="M315.75,572.37 A65.14999999999999,65.14999999999999 0 0 1 315.66,572.03 L320.01,570.90 A60.650000000000006,60.650000000000006 0 0 0 320.09,571.21 Z" fill="#e48a96"/>
<path d="M316.24,574.13 A65.14999999999999,65.14999999999999 0 0 1 315.93,573.06 L320.27,571.85 A60.650000000000006,60.650000000000006 0 0 0 320.55,572.85 Z" fill="#f2c4ca"/>
<path d="M316.26,574.18 A65.14999999999999,65.14999999999999 0 0 1 313.85,561.89 L318.33,561.45 A60.650000000000006,60.650000000000006 0 0 0 320.57,572.90 Z" fill="none" stroke="#151515" stroke-width="0.9"/>
<text transform="translate(307.25,569.56) rotate(78.94)" font-size="8.0" text-anchor="middle" fill="#2a2a2a" stroke="#2a2a2a" stroke-width="0.1" dominant-baseline="central">14</text>
<path d="M313.66,559.35 A65.14999999999999,65.14999999999999 0 0 1 313.62,558.56 L318.11,558.35 A60.650000000000006,60.650000000000006 0 0 0 318.15,559.09 Z" fill="#d4d4d4"/>
<path d="M313.60,558.06 A65.14999999999999,65.14999999999999 0 0 1 313.58,557.57 L318.08,557.43 A60.650000000000006,60.650000000000006 0 0 0 318.09,557.89 Z" fill="#161616"/>
<path d="M313.55,555.95 A65.14999999999999,65.14999999999999 0 0 1 313.55,555.16 L318.05,555.19 A60.650000000000006,60.650000000000006 0 0 0 318.05,555.92 Z" fill="#161616"/>
<path d="M313.56,554.35 A65.14999999999999,65.14999999999999 0 0 1 313.57,553.87 L318.07,553.99 A60.650000000000006,60.650000000000006 0 0 0 318.06,554.44 Z" fill="#161616"/>
<path d="M313.57,553.87 A65.14999999999999,65.14999999999999 0 0 1 313.59,553.33 L318.09,553.48 A60.650000000000006,60.650000000000006 0 0 0 318.07,553.99 Z" fill="#8c8c8c"/>
<path d="M313.61,552.87 A65.14999999999999,65.14999999999999 0 0 1 313.63,552.40 L318.12,552.62 A60.650000000000006,60.650000000000006 0 0 0 318.10,553.06 Z" fill="#8c8c8c"/>
<path d="M313.63,552.40 A65.14999999999999,65.14999999999999 0 0 1 313.67,551.69 L318.16,551.96 A60.650000000000006,60.650000000000006 0 0 0 318.12,552.62 Z" fill="#d4d4d4"/>
<path d="M313.70,551.16 A65.14999999999999,65.14999999999999 0 0 1 313.74,550.64 L318.23,550.98 A60.650000000000006,60.650000000000006 0 0 0 318.19,551.47 Z" fill="#d4d4d4"/>
<path d="M313.80,549.91 A65.14999999999999,65.14999999999999 0 0 1 313.85,549.31 L318.33,549.74 A60.650000000000006,60.650000000000006 0 0 0 318.28,550.30 Z" fill="#161616"/>
<path d="M313.93,548.57 A65.14999999999999,65.14999999999999 0 0 1 314.02,547.78 L318.49,548.32 A60.650000000000006,60.650000000000006 0 0 0 318.40,549.06 Z" fill="#161616"/>
<path d="M313.59,557.78 A65.14999999999999,65.14999999999999 0 0 1 313.56,556.84 L318.06,556.76 A60.650000000000006,60.650000000000006 0 0 0 318.08,557.63 Z" fill="#f0b8c0"/>
<path d="M313.58,557.48 A65.14999999999999,65.14999999999999 0 0 1 313.57,557.13 L318.07,557.03 A60.650000000000006,60.650000000000006 0 0 0 318.08,557.35 Z" fill="#e48a96"/>
<path d="M313.67,559.47 A65.14999999999999,65.14999999999999 0 0 1 313.61,558.36 L318.10,558.17 A60.650000000000006,60.650000000000006 0 0 0 318.16,559.20 Z" fill="#f2c4ca"/>
<path d="M313.67,559.53 A65.14999999999999,65.14999999999999 0 0 1 314.05,547.57 L318.51,548.12 A60.650000000000006,60.650000000000006 0 0 0 318.16,559.26 Z" fill="none" stroke="#151515" stroke-width="0.9"/>
<text transform="translate(305.94,553.30) rotate(271.81)" font-size="8.0" text-anchor="middle" fill="#2a2a2a" stroke="#2a2a2a" stroke-width="0.1" dominant-baseline="central">15</text>
<path d="M314.76,543.13 A65.14999999999999,65.14999999999999 0 0 1 314.81,542.83 L319.23,543.72 A60.650000000000006,60.650000000000006 0 0 0 319.17,543.99 Z" fill="#161616"/>
<path d="M314.96,542.14 A65.14999999999999,65.14999999999999 0 0 1 315.09,541.50 L319.49,542.47 A60.650000000000006,60.650000000000006 0 0 0 319.36,543.07 Z" fill="#d4d4d4"/>
<path d="M315.38,540.26 A65.14999999999999,65.14999999999999 0 0 1 315.47,539.90 L319.84,540.99 A60.650000000000006,60.650000000000006 0 0 0 319.76,541.32 Z" fill="#d4d4d4"/>
<path d="M315.71,538.98 A65.14999999999999,65.14999999999999 0 0 1 315.83,538.52 L320.17,539.70 A60.650000000000006,60.650000000000006 0 0 0 320.06,540.13 Z" fill="#d4d4d4"/>
<path d="M315.83,538.52 A65.14999999999999,65.14999999999999 0 0 1 316.05,537.74 L320.37,538.97 A60.650000000000006,60.650000000000006 0 0 0 320.17,539.70 Z" fill="#161616"/>
<path d="M316.26,537.02 A65.14999999999999,65.14999999999999 0 0 1 316.38,536.60 L320.69,537.91 A60.650000000000006,60.650000000000006 0 0 0 320.57,538.30 Z" fill="#161616"/>
<path d="M316.51,536.18 A65.14999999999999,65.14999999999999 0 0 1 316.68,535.65 L320.96,537.03 A60.650000000000006,60.650000000000006 0 0 0 320.81,537.52 Z" fill="#8c8c8c"/>
<path d="M316.68,535.65 A65.14999999999999,65.14999999999999 0 0 1 316.82,535.20 L321.10,536.61 A60.650000000000006,60.650000000000006 0 0 0 320.96,537.03 Z" fill="#d4d4d4"/>
<path d="M316.82,535.20 A65.14999999999999,65.14999999999999 0 0 1 316.90,534.98 L321.17,536.40 A60.650000000000006,60.650000000000006 0 0 0 321.10,536.61 Z" fill="#161616"/>
<path d="M315.10,541.48 A65.14999999999999,65.14999999999999 0 0 1 315.31,540.57 L319.69,541.61 A60.650000000000006,60.650000000000006 0 0 0 319.49,542.46 Z" fill="#f0b8c0"/>
<path d="M315.16,541.20 A65.14999999999999,65.14999999999999 0 0 1 315.24,540.86 L319.62,541.88 A60.650000000000006,60.650000000000006 0 0 0 319.55,542.19 Z" fill="#e48a96"/>
<path d="M315.24,540.87 A65.14999999999999,65.14999999999999 0 0 1 315.46,539.96 L319.82,541.04 A60.650000000000006,60.650000000000006 0 0 0 319.62,541.89 Z" fill="#f2c4ca"/>
<path d="M314.38,545.23 A65.14999999999999,65.14999999999999 0 0 1 316.90,534.98 L321.17,536.40 A60.650000000000006,60.650000000000006 0 0 0 318.82,545.94 Z" fill="none" stroke="#151515" stroke-width="0.9"/>
<text transform="translate(308.00,538.23) rotate(283.81)" font-size="8.0" text-anchor="middle" fill="#2a2a2a" stroke="#2a2a2a" stroke-width="0.1" dominant-baseline="central">16</text>
<path d="M317.94,532.09 A65.14999999999999,65.14999999999999 0 0 1 318.15,531.56 L322.33,533.22 A60.650000000000006,60.650000000000006 0 0 0 322.14,533.71 Z" fill="#161616"/>
<path d="M318.15,531.56 A65.14999999999999,65.14999999999999 0 0 1 318.45,530.81 L322.61,532.52 A60.650000000000006,60.650000000000006 0 0 0 322.33,533.22 Z" fill="#d4d4d4"/>
<path d="M319.08,529.34 A65.14999999999999,65.14999999999999 0 0 1 319.21,529.05 L323.32,530.88 A60.650000000000006,60.650000000000006 0 0 0 323.19,531.16 Z" fill="#161616"/>
<path d="M319.61,528.16 A65.14999999999999,65.14999999999999 0 0 1 319.86,527.63 L323.92,529.56 A60.650000000000006,60.650000000000006 0 0 0 323.69,530.05 Z" fill="#161616"/>
<path d="M320.81,525.71 A65.14999999999999,65.14999999999999 0 0 1 321.10,525.15 L325.08,527.25 A60.650000000000006,60.650000000000006 0 0 0 324.81,527.78 Z" fill="#161616"/>
<path d="M318.55,530.58 A65.14999999999999,65.14999999999999 0 0 1 318.91,529.72 L323.04,531.50 A60.650000000000006,60.650000000000006 0 0 0 322.70,532.30 Z" fill="#f0b8c0"/>
<path d="M318.66,530.31 A65.14999999999999,65.14999999999999 0 0 1 318.80,529.98 L322.93,531.75 A60.650000000000006,60.650000000000006 0 0 0 322.81,532.05 Z" fill="#e48a96"/>
<path d="M317.69,532.75 A65.14999999999999,65.14999999999999 0 0 1 321.65,524.13 L325.59,526.31 A60.650000000000006,60.650000000000006 0 0 0 321.90,534.33 Z" fill="none" stroke="#151515" stroke-width="0.9"/>
<text transform="translate(312.56,525.17) rotate(294.71)" font-size="8.0" text-anchor="middle" fill="#2a2a2a" stroke="#2a2a2a" stroke-width="0.1" dominant-baseline="central">17</text>
<path d="M324.28,519.78 A65.14999999999999,65.14999999999999 0 0 1 324.68,519.18 L328.41,521.69 A60.650000000000006,60.650000000000006 0 0 0 328.04,522.26 Z" fill="#161616"/>
<path d="M325.93,517.39 A65.14999999999999,65.14999999999999 0 0 1 326.25,516.95 L329.87,519.62 A60.650000000000006,60.650000000000006 0 0 0 329.57,520.03 Z" fill="#161616"/>
<path d="M326.51,516.60 A65.14999999999999,65.14999999999999 0 0 1 326.95,516.02 L330.53,518.75 A60.650000000000006,60.650000000000006 0 0 0 330.12,519.29 Z" fill="#d4d4d4"/>
<path d="M323.64,520.77 A65.14999999999999,65.14999999999999 0 0 1 324.15,519.98 L327.92,522.44 A60.650000000000006,60.650000000000006 0 0 0 327.44,523.18 Z" fill="#f0b8c0"/>
<path d="M323.80,520.52 A65.14999999999999,65.14999999999999 0 0 1 323.99,520.23 L327.77,522.67 A60.650000000000006,60.650000000000006 0 0 0 327.59,522.95 Z" fill="#e48a96"/>
<path d="M322.83,522.08 A65.14999999999999,65.14999999999999 0 0 1 328.06,514.61 L331.56,517.44 A60.650000000000006,60.650000000000006 0 0 0 326.69,524.40 Z" fill="none" stroke="#151515" stroke-width="0.9"/>
<text transform="translate(319.05,513.87) rotate(304.97)" font-size="8.0" text-anchor="middle" fill="#2a2a2a" stroke="#2a2a2a" stroke-width="0.1" dominant-baseline="central">18</text>
<path d="M330.07,512.25 A65.14999999999999,65.14999999999999 0 0 1 330.49,511.78 L333.82,514.81 A60.650000000000006,60.650000000000006 0 0 0 333.43,515.24 Z" fill="#d4d4d4"/>
<path d="M330.84,511.40 A65.14999999999999,65.14999999999999 0 0 1 331.39,510.81 L334.66,513.90 A60.650000000000006,60.650000000000006 0 0 0 334.14,514.45 Z" fill="#8c8c8c"/>
<path d="M332.71,509.45 A65.14999999999999,65.14999999999999 0 0 1 333.26,508.91 L336.40,512.14 A60.650000000000006,60.650000000000006 0 0 0 335.89,512.64 Z" fill="#161616"/>
<path d="M333.59,508.59 A65.14999999999999,65.14999999999999 0 0 1 334.03,508.18 L337.11,511.45 A60.650000000000006,60.650000000000006 0 0 0 336.71,511.84 Z" fill="#161616"/>
<path d="M331.35,510.85 A65.14999999999999,65.14999999999999 0 0 1 332.00,510.18 L335.22,513.31 A60.650000000000006,60.650000000000006 0 0 0 334.62,513.94 Z" fill="#f0b8c0"/>
<path d="M331.55,510.64 A65.14999999999999,65.14999999999999 0 0 1 331.79,510.39 L335.03,513.51 A60.650000000000006,60.650000000000006 0 0 0 334.81,513.74 Z" fill="#e48a96"/>
<path d="M329.58,512.80 A65.14999999999999,65.14999999999999 0 0 1 334.39,507.84 L337.45,511.14 A60.650000000000006,60.650000000000006 0 0 0 332.98,515.75 Z" fill="none" stroke="#151515" stroke-width="0.9"/>
<text transform="translate(326.43,504.93) rotate(314.11)" font-size="8.0" text-anchor="middle" fill="#2a2a2a" stroke="#2a2a2a" stroke-width="0.1" dominant-baseline="central">19</text>
<path d="M336.28,506.15 A65.14999999999999,65.14999999999999 0 0 1 336.54,505.93 L339.45,509.36 A60.650000000000006,60.650000000000006 0 0 0 339.21,509.56 Z" fill="#d4d4d4"/>
<path d="M336.54,505.93 A65.14999999999999,65.14999999999999 0 0 1 336.78,505.73 L339.67,509.18 A60.650000000000006,60.650000000000006 0 0 0 339.45,509.36 Z" fill="#161616"/>
<path d="M336.78,505.73 A65.14999999999999,65.14999999999999 0 0 1 337.21,505.37 L340.08,508.84 A60.650000000000006,60.650000000000006 0 0 0 339.67,509.18 Z" fill="#d4d4d4"/>
<path d="M337.47,505.15 A65.14999999999999,65.14999999999999 0 0 1 337.89,504.81 L340.71,508.32 A60.650000000000006,60.650000000000006 0 0 0 340.32,508.64 Z" fill="#161616"/>
<path d="M339.43,503.61 A65.14999999999999,65.14999999999999 0 0 1 339.79,503.34 L342.48,506.95 A60.650000000000006,60.650000000000006 0 0 0 342.15,507.20 Z" fill="#161616"/>
<path d="M339.79,503.34 A65.14999999999999,65.14999999999999 0 0 1 340.08,503.13 L342.75,506.75 A60.650000000000006,60.650000000000006 0 0 0 342.48,506.95 Z" fill="#d4d4d4"/>
<path d="M340.58,502.76 A65.14999999999999,65.14999999999999 0 0 1 341.15,502.36 L343.75,506.04 A60.650000000000006,60.650000000000006 0 0 0 343.22,506.41 Z" fill="#161616"/>
<path d="M341.15,502.36 A65.14999999999999,65.14999999999999 0 0 1 341.76,501.93 L344.31,505.64 A60.650000000000006,60.650000000000006 0 0 0 343.75,506.04 Z" fill="#8c8c8c"/>
<path d="M338.27,504.51 A65.14999999999999,65.14999999999999 0 0 1 339.01,503.94 L341.75,507.51 A60.650000000000006,60.650000000000006 0 0 0 341.06,508.04 Z" fill="#f0b8c0"/>
<path d="M338.50,504.33 A65.14999999999999,65.14999999999999 0 0 1 338.78,504.12 L341.53,507.67 A60.650000000000006,60.650000000000006 0 0 0 341.28,507.87 Z" fill="#e48a96"/>
<path d="M336.15,506.26 A65.14999999999999,65.14999999999999 0 0 1 341.99,501.78 L344.52,505.50 A60.650000000000006,60.650000000000006 0 0 0 339.09,509.67 Z" fill="none" stroke="#151515" stroke-width="0.9"/>
<text transform="translate(334.35,497.87) rotate(322.46)" font-size="8.0" text-anchor="middle" fill="#2a2a2a" stroke="#2a2a2a" stroke-width="0.1" dominant-baseline="central">20</text>
<path d="M344.56,500.11 A65.14999999999999,65.14999999999999 0 0 1 344.89,499.91 L347.23,503.75 A60.650000000000006,60.650000000000006 0 0 0 346.92,503.95 Z" fill="#161616"/>
<path d="M347.21,498.56 A65.14999999999999,65.14999999999999 0 0 1 347.65,498.33 L349.79,502.28 A60.650000000000006,60.650000000000006 0 0 0 349.39,502.50 Z" fill="#161616"/>
<path d="M344.88,499.91 A65.14999999999999,65.14999999999999 0 0 1 345.68,499.44 L347.96,503.31 A60.650000000000006,60.650000000000006 0 0 0 347.22,503.76 Z" fill="#f0b8c0"/>
<path d="M345.13,499.76 A65.14999999999999,65.14999999999999 0 0 1 345.43,499.58 L347.73,503.45 A60.650000000000006,60.650000000000006 0 0 0 347.45,503.62 Z" fill="#e48a96"/>
<path d="M344.02,500.45 A65.14999999999999,65.14999999999999 0 0 1 344.96,499.87 L347.29,503.72 A60.650000000000006,60.650000000000006 0 0 0 346.41,504.26 Z" fill="#f2c4ca"/>
<path d="M343.97,500.48 A65.14999999999999,65.14999999999999 0 0 1 348.85,497.69 L350.91,501.69 A60.650000000000006,60.650000000000006 0 0 0 346.37,504.29 Z" fill="none" stroke="#151515" stroke-width="0.9"/>
<text transform="translate(342.58,492.39) rotate(330.26)" font-size="8.0" text-anchor="middle" fill="#2a2a2a" stroke="#2a2a2a" stroke-width="0.1" dominant-baseline="central">21</text>
<path d="M351.48,496.41 A65.14999999999999,65.14999999999999 0 0 1 351.87,496.23 L353.72,500.33 A60.650000000000006,60.650000000000006 0 0 0 353.36,500.50 Z" fill="#8c8c8c"/>
<path d="M353.82,495.39 A65.14999999999999,65.14999999999999 0 0 1 354.42,495.14 L356.10,499.32 A60.650000000000006,60.650000000000006 0 0 0 355.54,499.55 Z" fill="#d4d4d4"/>
<path d="M354.42,495.14 A65.14999999999999,65.14999999999999 0 0 1 354.78,495.00 L356.43,499.19 A60.650000000000006,60.650000000000006 0 0 0 356.10,499.32 Z" fill="#8c8c8c"/>
<path d="M354.78,495.00 A65.14999999999999,65.14999999999999 0 0 1 355.24,494.82 L356.86,499.02 A60.650000000000006,60.650000000000006 0 0 0 356.43,499.19 Z" fill="#d4d4d4"/>
<path d="M356.30,494.42 A65.14999999999999,65.14999999999999 0 0 1 356.51,494.35 L358.04,498.58 A60.650000000000006,60.650000000000006 0 0 0 357.85,498.65 Z" fill="#161616"/>
<path d="M352.11,496.12 A65.14999999999999,65.14999999999999 0 0 1 352.96,495.75 L354.74,499.88 A60.650000000000006,60.650000000000006 0 0 0 353.94,500.23 Z" fill="#f0b8c0"/>
<path d="M352.37,496.01 A65.14999999999999,65.14999999999999 0 0 1 352.69,495.87 L354.49,499.99 A60.650000000000006,60.650000000000006 0 0 0 354.19,500.12 Z" fill="#e48a96"/>
<path d="M351.02,496.62 A65.14999999999999,65.14999999999999 0 0 1 352.03,496.16 L353.87,500.26 A60.650000000000006,60.650000000000006 0 0 0 352.93,500.70 Z" fill="#f2c4ca"/>
<path d="M350.97,496.65 A65.14999999999999,65.14999999999999 0 0 1 356.51,494.35 L358.04,498.58 A60.650000000000006,60.650000000000006 0 0 0 352.88,500.72 Z" fill="none" stroke="#151515" stroke-width="0.9"/>
<text transform="translate(350.78,488.37) rotate(337.45)" font-size="8.0" text-anchor="middle" fill="#2a2a2a" stroke="#2a2a2a" stroke-width="0.1" dominant-baseline="central">22</text>
<path d="M358.91,493.53 A65.14999999999999,65.14999999999999 0 0 1 359.44,493.36 L360.77,497.66 A60.650000000000006,60.650000000000006 0 0 0 360.28,497.82 Z" fill="#d4d4d4"/>
<path d="M359.44,493.36 A65.14999999999999,65.14999999999999 0 0 1 359.85,493.24 L361.15,497.54 A60.650000000000006,60.650000000000006 0 0 0 360.77,497.66 Z" fill="#161616"/>
<path d="M360.48,493.05 A65.14999999999999,65.14999999999999 0 0 1 361.17,492.85 L362.38,497.19 A60.650000000000006,60.650000000000006 0 0 0 361.73,497.37 Z" fill="#161616"/>
<path d="M362.80,492.42 A65.14999999999999,65.14999999999999 0 0 1 363.46,492.26 L364.51,496.63 A60.650000000000006,60.650000000000006 0 0 0 363.90,496.78 Z" fill="#d4d4d4"/>
<path d="M364.52,492.01 A65.14999999999999,65.14999999999999 0 0 1 365.09,491.89 L366.03,496.29 A60.650000000000006,60.650000000000006 0 0 0 365.50,496.40 Z" fill="#161616"/>
<path d="M366.58,491.59 A65.14999999999999,65.14999999999999 0 0 1 367.26,491.46 L368.05,495.89 A60.650000000000006,60.650000000000006 0 0 0 367.42,496.01 Z" fill="#d4d4d4"/>
<path d="M367.26,491.46 A65.14999999999999,65.14999999999999 0 0 1 367.71,491.38 L368.47,495.82 A60.650000000000006,60.650000000000006 0 0 0 368.05,495.89 Z" fill="#161616"/>
<path d="M367.71,491.38 A65.14999999999999,65.14999999999999 0 0 1 368.45,491.26 L369.16,495.70 A60.650000000000006,60.650000000000006 0 0 0 368.47,495.82 Z" fill="#d4d4d4"/>
<path d="M368.45,491.26 A65.14999999999999,65.14999999999999 0 0 1 369.26,491.14 L369.91,495.59 A60.650000000000006,60.650000000000006 0 0 0 369.16,495.70 Z" fill="#161616"/>
<path d="M369.94,491.04 A65.14999999999999,65.14999999999999 0 0 1 370.23,491.00 L370.82,495.46 A60.650000000000006,60.650000000000006 0 0 0 370.54,495.50 Z" fill="#8c8c8c"/>
<path d="M370.91,490.92 A65.14999999999999,65.14999999999999 0 0 1 371.45,490.86 L371.95,495.33 A60.650000000000006,60.650000000000006 0 0 0 371.44,495.39 Z" fill="#d4d4d4"/>
<path d="M371.45,490.86 A65.14999999999999,65.14999999999999 0 0 1 371.87,490.81 L372.34,495.28 A60.650000000000006,60.650000000000006 0 0 0 371.95,495.33 Z" fill="#8c8c8c"/>
<path d="M372.45,490.75 A65.14999999999999,65.14999999999999 0 0 1 372.80,490.72 L373.21,495.20 A60.650000000000006,60.650000000000006 0 0 0 372.88,495.23 Z" fill="#d4d4d4"/>
<path d="M372.80,490.72 A65.14999999999999,65.14999999999999 0 0 1 373.26,490.68 L373.64,495.16 A60.650000000000006,60.650000000000006 0 0 0 373.21,495.20 Z" fill="#8c8c8c"/>
<path d="M375.73,490.52 A65.14999999999999,65.14999999999999 0 0 1 376.30,490.49 L376.47,494.99 A60.650000000000006,60.650000000000006 0 0 0 375.93,495.01 Z" fill="#161616"/>
<path d="M365.13,491.88 A65.14999999999999,65.14999999999999 0 0 1 366.05,491.69 L366.92,496.10 A60.650000000000006,60.650000000000006 0 0 0 366.07,496.28 Z" fill="#f0b8c0"/>
<path d="M365.42,491.82 A65.14999999999999,65.14999999999999 0 0 1 365.76,491.75 L366.66,496.16 A60.650000000000006,60.650000000000006 0 0 0 366.34,496.22 Z" fill="#e48a96"/>
<path d="M358.74,493.58 A65.14999999999999,65.14999999999999 0 0 1 376.57,490.48 L376.72,494.98 A60.650000000000006,60.650000000000006 0 0 0 360.12,497.87 Z" fill="none" stroke="#151515" stroke-width="0.9"/>
<text transform="translate(366.24,483.87) rotate(350.15)" font-size="8.0" text-anchor="middle" fill="#2a2a2a" stroke="#2a2a2a" stroke-width="0.1" dominant-baseline="central">X</text>
<path d="M320.98,561.28 Q378.70,555.60 387.58,612.92" fill="none" stroke="#62b350" stroke-width="0.95"/>
<path d="M434.53,539.88 Q378.70,555.60 387.58,612.92" fill="none" stroke="#ee8040" stroke-width="0.95"/>
<path d="M336.80,595.71 Q378.70,555.60 387.58,612.92" fill="none" stroke="#db3a7e" stroke-width="0.95"/>
<path d="M379.82,613.59 Q378.70,555.60 387.58,612.92" fill="none" stroke="#8c8ccc" stroke-width="0.95"/>
<line x1="299.58" y1="563.39" x2="287.64" y2="564.57" stroke="#62b350" stroke-width="0.9"/>
<text transform="translate(286.15,564.71) rotate(-5.62)" font-size="9" text-anchor="end" fill="#62b350" stroke="#62b350" stroke-width="0.1" dominant-baseline="central">IGH</text>
<line x1="455.22" y1="534.05" x2="466.77" y2="530.80" stroke="#ee8040" stroke-width="0.9"/>
<text transform="translate(468.22,530.39) rotate(-15.73)" font-size="9" text-anchor="start" fill="#ee8040" stroke="#ee8040" stroke-width="0.1" dominant-baseline="central">BCL6</text>
<line x1="321.27" y1="610.57" x2="312.60" y2="618.87" stroke="#db3a7e" stroke-width="0.9"/>
<text transform="translate(311.52,619.91) rotate(-43.75)" font-size="9" text-anchor="end" fill="#db3a7e" stroke="#db3a7e" stroke-width="0.1" dominant-baseline="central">LRMP</text>
<line x1="380.23" y1="635.09" x2="380.46" y2="647.08" stroke="#8c8ccc" stroke-width="0.9"/>
<text transform="translate(380.49,648.58) rotate(88.90)" font-size="9" text-anchor="start" fill="#8c8ccc" stroke="#8c8ccc" stroke-width="0.1" dominant-baseline="central">PAX5</text>
<line x1="390.87" y1="634.16" x2="392.70" y2="646.02" stroke="#222" stroke-width="0.9"/>
<text transform="translate(392.93,647.50) rotate(81.20)" font-size="9" text-anchor="start" fill="#222" stroke="#222" stroke-width="0.1" dominant-baseline="central">MYC</text>
<rect x="0.5" y="0.5" width="519" height="688" fill="none" stroke="#555" stroke-width="1"/>
</svg>
</body></html>
